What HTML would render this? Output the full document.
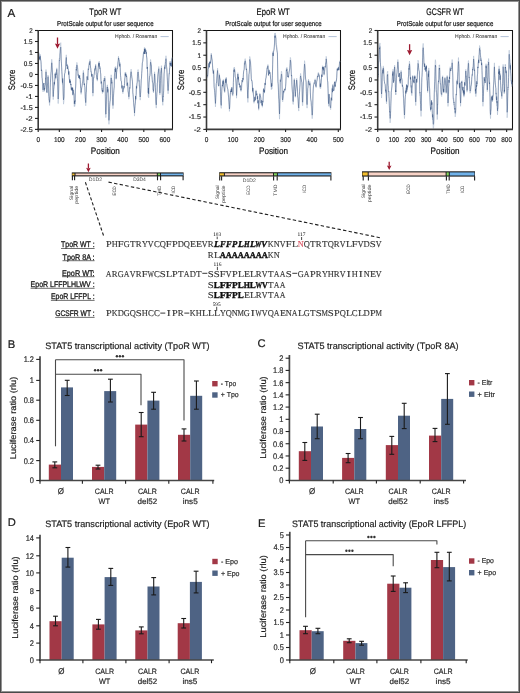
<!DOCTYPE html>
<html><head><meta charset="utf-8"><style>
html,body{margin:0;padding:0;background:#fff;}
body{width:520px;height:693px;overflow:hidden;position:relative;}
svg{position:absolute;left:0;top:0;will-change:transform;text-rendering:geometricPrecision;font-family:"Liberation Sans", sans-serif;}
.frame{position:absolute;left:0;top:0;width:520px;height:693px;box-sizing:border-box;
border:1px solid #4a4a4a;box-shadow:inset 0 0 0 1px #939393;}
</style></head><body>
<svg width="520" height="693" viewBox="0 0 520 693">
<text x="7.6" y="16.9" font-size="11.6" fill="#1a1a1a" stroke="#1a1a1a" stroke-width="0.2">A</text>
<text x="105.35" y="14.9" font-size="9.6" text-anchor="middle" textLength="32" lengthAdjust="spacingAndGlyphs" stroke="#222" stroke-width="0.2">TpoR WT</text>
<text x="105.35" y="25.6" font-size="7.1" text-anchor="middle" textLength="96.5" lengthAdjust="spacingAndGlyphs" stroke="#222" stroke-width="0.2">ProtScale output for user sequence</text>
<path d="M38.2 30.5 L172.5 30.5 L172.5 129.4" fill="none" stroke="#151515" stroke-width="1.05"/>
<path d="M38.41 52.86 L38.62 52.99 L38.83 52.34 L39.04 57.04 L39.26 58.75 L39.47 58.23 L39.68 55.89 L39.89 59.52 L40.1 54.21 L40.31 55.05 L40.52 58.28 L40.73 59.08 L40.95 60.33 L41.16 64.09 L41.37 70.84 L41.58 69.64 L41.79 71.06 L42 77.63 L42.21 78.71 L42.42 81.46 L42.64 84.32 L42.85 87.82 L43.06 91.96 L43.27 86.39 L43.48 84.79 L43.69 84.7 L43.9 83.23 L44.11 88.07 L44.32 91.48 L44.54 88.66 L44.75 89.33 L44.96 86.82 L45.17 85.64 L45.38 84.84 L45.59 77.48 L45.8 78.21 L46.01 69.54 L46.23 77.16 L46.44 84.79 L46.65 92.49 L46.86 92.24 L47.07 93.08 L47.28 89.26 L47.49 83.37 L47.7 83.38 L47.92 75.28 L48.13 75.06 L48.34 80.98 L48.55 89.28 L48.76 96.72 L48.97 98.92 L49.18 102.76 L49.39 102.74 L49.6 105.46 L49.82 101.45 L50.03 98.56 L50.24 88.01 L50.45 82.04 L50.66 78.02 L50.87 73.68 L51.08 70.64 L51.29 69.13 L51.51 62.02 L51.72 59.25 L51.93 60.63 L52.14 65.07 L52.35 69.17 L52.56 74.73 L52.77 82.18 L52.98 95.81 L53.2 99.61 L53.41 97.28 L53.62 91.24 L53.83 89.66 L54.04 86.07 L54.25 82.85 L54.46 85.39 L54.67 80.79 L54.88 79.37 L55.1 72.9 L55.31 74.78 L55.52 74.89 L55.73 77.52 L55.94 71.89 L56.15 73.63 L56.36 71.37 L56.57 69.92 L56.79 67.83 L57 71.68 L57.21 74.76 L57.42 78.91 L57.63 83.19 L57.84 93.08 L58.05 103.54 L58.26 103.59 L58.48 99.17 L58.69 92.46 L58.9 77.66 L59.11 69.9 L59.32 58.27 L59.53 58.85 L59.74 57.99 L59.95 51.23 L60.16 49.9 L60.38 44.67 L60.59 43.38 L60.8 42.65 L61.01 49.97 L61.22 58.84 L61.43 61.52 L61.64 66.73 L61.85 71.7 L62.07 75.27 L62.28 80.33 L62.49 84.41 L62.7 79.4 L62.91 84.53 L63.12 92.9 L63.33 99.92 L63.54 104.17 L63.76 102.49 L63.97 100.81 L64.18 90.66 L64.39 77.97 L64.6 73.71 L64.81 72.95 L65.02 72.43 L65.23 69.16 L65.44 69.23 L65.66 65.94 L65.87 59.01 L66.08 58.04 L66.29 54.81 L66.5 61.53 L66.71 64.48 L66.92 65.17 L67.13 63.99 L67.35 68.79 L67.56 66.73 L67.77 65.71 L67.98 67.99 L68.19 68.44 L68.4 69.72 L68.61 74.74 L68.82 71.09 L69.04 74.67 L69.25 78.54 L69.46 80.2 L69.67 83.26 L69.88 79.45 L70.09 83.08 L70.3 80.89 L70.51 81.74 L70.72 85.16 L70.94 84.14 L71.15 88.77 L71.36 90.09 L71.57 87.7 L71.78 90.51 L71.99 89.62 L72.2 87.22 L72.41 90.45 L72.63 87.4 L72.84 95.3 L73.05 89.64 L73.26 90.7 L73.47 93.65 L73.68 93.71 L73.89 93.93 L74.1 98.28 L74.32 106.59 L74.53 103.41 L74.74 106.4 L74.95 102.91 L75.16 104.32 L75.37 90.88 L75.58 88.75 L75.79 84.03 L76 74.41 L76.22 66.96 L76.43 68.55 L76.64 63.61 L76.85 62.38 L77.06 62.93 L77.27 64.21 L77.48 65.54 L77.69 67.75 L77.91 71.85 L78.12 75.1 L78.33 74.38 L78.54 77.49 L78.75 78.08 L78.96 77.74 L79.17 75.37 L79.38 78.4 L79.6 75.04 L79.81 78.76 L80.02 78.18 L80.23 80.17 L80.44 84.18 L80.65 89.32 L80.86 89.73 L81.07 94.37 L81.28 92.22 L81.5 90.27 L81.71 88.42 L81.92 87.35 L82.13 86.12 L82.34 83.47 L82.55 82.97 L82.76 80.81 L82.97 78.77 L83.19 70.69 L83.4 70.3 L83.61 72.12 L83.82 78.98 L84.03 83.56 L84.24 84.69 L84.45 83.38 L84.66 86.08 L84.88 87.84 L85.09 94.16 L85.3 100.88 L85.51 100.92 L85.72 105.84 L85.93 102.45 L86.14 94.31 L86.35 93.45 L86.56 85.32 L86.78 82.6 L86.99 76.63 L87.2 76.08 L87.41 77.64 L87.62 78.72 L87.83 80.2 L88.04 72.52 L88.25 68.11 L88.47 69.05 L88.68 67.92 L88.89 64.74 L89.1 64.02 L89.31 62.13 L89.52 63.6 L89.73 61.97 L89.94 59.44 L90.16 61.84 L90.37 64.43 L90.58 67.16 L90.79 68.08 L91 71.86 L91.21 71.67 L91.42 73.2 L91.63 76.87 L91.84 74.02 L92.06 74.07 L92.27 75.32 L92.48 83.09 L92.69 91.02 L92.9 96.23 L93.11 93.6 L93.32 85.6 L93.53 78.26 L93.75 78.42 L93.96 75.52 L94.17 74.4 L94.38 72.74 L94.59 69.87 L94.8 68.32 L95.01 69.39 L95.22 66.56 L95.44 67.27 L95.65 64.05 L95.86 66.75 L96.07 69.07 L96.28 74.78 L96.49 75.49 L96.7 78.8 L96.91 79.66 L97.12 79.45 L97.34 81.14 L97.55 76.77 L97.76 73.08 L97.97 72.67 L98.18 68.65 L98.39 65.58 L98.6 61.93 L98.81 62.21 L99.03 65.47 L99.24 61.19 L99.45 66.64 L99.66 67.61 L99.87 67.35 L100.08 66.26 L100.29 68.52 L100.5 71.92 L100.72 73.6 L100.93 79.64 L101.14 84.18 L101.35 83.28 L101.56 82.06 L101.77 85.47 L101.98 90.98 L102.19 89.98 L102.4 93.54 L102.62 91.21 L102.83 92.66 L103.04 92.38 L103.25 92.16 L103.46 84.56 L103.67 82.1 L103.88 79.22 L104.09 78.13 L104.31 79.6 L104.52 79.45 L104.73 76.07 L104.94 77.38 L105.15 82.72 L105.36 97.3 L105.57 115.51 L105.78 117.63 L106 117.17 L106.21 110.08 L106.42 101.76 L106.63 93.73 L106.84 88.38 L107.05 85.68 L107.26 86.03 L107.47 84.82 L107.68 91.17 L107.9 87.62 L108.11 90.43 L108.32 102.8 L108.53 113.57 L108.74 117.82 L108.95 124.32 L109.16 119.57 L109.37 117.27 L109.59 108.53 L109.8 104.22 L110.01 101.83 L110.22 100.94 L110.43 95.57 L110.64 84.8 L110.85 76.72 L111.06 74.72 L111.28 74.91 L111.49 76.12 L111.7 81.54 L111.91 79.89 L112.12 85.25 L112.33 93.52 L112.54 101.35 L112.75 107.35 L112.96 108.69 L113.18 107.66 L113.39 100 L113.6 95.56 L113.81 91.96 L114.02 89.21 L114.23 87.77 L114.44 75.32 L114.65 72.07 L114.87 70.86 L115.08 66.98 L115.29 68.84 L115.5 70.91 L115.71 66.47 L115.92 71.93 L116.13 79.33 L116.34 77.74 L116.56 73.29 L116.77 70.98 L116.98 69.12 L117.19 68.66 L117.4 68.79 L117.61 67.36 L117.82 64.04 L118.03 60.95 L118.24 60.13 L118.46 56.16 L118.67 57.85 L118.88 57.86 L119.09 58.17 L119.3 61.68 L119.51 64.84 L119.72 65.71 L119.93 62.36 L120.15 65.76 L120.36 71.59 L120.57 75.85 L120.78 77.84 L120.99 81.11 L121.2 81.25 L121.41 81.55 L121.62 84.92 L121.84 88.99 L122.05 86.33 L122.26 86.36 L122.47 90.93 L122.68 92.46 L122.89 93.61 L123.1 91.68 L123.31 91.62 L123.52 88.76 L123.74 89.2 L123.95 86.69 L124.16 88.13 L124.37 85.85 L124.58 83.33 L124.79 77.92 L125 76.96 L125.21 72.04 L125.43 74.44 L125.64 72.08 L125.85 72.28 L126.06 73.98 L126.27 75.83 L126.48 74.33 L126.69 75.79 L126.9 79.42 L127.12 85.82 L127.33 82.85 L127.54 82.66 L127.75 86.01 L127.96 89.21 L128.17 93.37 L128.38 93.36 L128.59 96.84 L128.8 99.21 L129.02 98.6 L129.23 96.67 L129.44 92.31 L129.65 88.14 L129.86 88.83 L130.07 86.51 L130.28 77.94 L130.49 75.63 L130.71 72.36 L130.92 71.02 L131.13 69.1 L131.34 72.73 L131.55 72.76 L131.76 75.94 L131.97 76.66 L132.18 78.17 L132.4 79.74 L132.61 84.15 L132.82 92.97 L133.03 94.54 L133.24 97.55 L133.45 100.68 L133.66 103.9 L133.87 107.57 L134.08 109.02 L134.3 110.53 L134.51 116.12 L134.72 111.49 L134.93 108.3 L135.14 105.37 L135.35 105 L135.56 96.6 L135.77 100.28 L135.99 96.17 L136.2 94.51 L136.41 85.58 L136.62 88.07 L136.83 84.28 L137.04 82.45 L137.25 81.41 L137.46 74.2 L137.68 71.59 L137.89 70.07 L138.1 69.52 L138.31 71.1 L138.52 73.45 L138.73 77.64 L138.94 80.93 L139.15 80.47 L139.36 86.8 L139.58 86.95 L139.79 95.14 L140 97.75 L140.21 100.13 L140.42 97.6 L140.63 94.65 L140.84 90.43 L141.05 85.14 L141.27 79.87 L141.48 79.1 L141.69 73.54 L141.9 70.6 L142.11 67.06 L142.32 62.65 L142.53 61.52 L142.74 60.59 L142.96 58.24 L143.17 56.53 L143.38 53.05 L143.59 52.49 L143.8 51.13 L144.01 53.25 L144.22 52.6 L144.43 47.43 L144.64 53.55 L144.86 47.81 L145.07 50.51 L145.28 48.04 L145.49 50.39 L145.7 49.63 L145.91 51.51 L146.12 52.44 L146.33 50.25 L146.55 56.17 L146.76 56.09 L146.97 59.72 L147.18 68.92 L147.39 66.91 L147.6 73.47 L147.81 81.9 L148.02 88.9 L148.24 96.7 L148.45 90.96 L148.66 97.94 L148.87 89.04 L149.08 83.99 L149.29 81.96 L149.5 77.57 L149.71 76.12 L149.92 75.43 L150.14 72.71 L150.35 62.84 L150.56 59.47 L150.77 60.6 L150.98 63.04 L151.19 62.85 L151.4 63.83 L151.61 72.21 L151.83 74.31 L152.04 76.91 L152.25 79.65 L152.46 83.02 L152.67 82.94 L152.88 82.99 L153.09 91.46 L153.3 91.24 L153.52 92.9 L153.73 88.77 L153.94 83.47 L154.15 82.87 L154.36 76 L154.57 71.81 L154.78 73.71 L154.99 77.69 L155.2 83.87 L155.42 87.6 L155.63 97.75 L155.84 103.58 L156.05 105.74 L156.26 108.14 L156.47 102.08 L156.68 98.38 L156.89 93.61 L157.11 92.39 L157.32 82.8 L157.53 82.01 L157.74 76.76 L157.95 73.05 L158.16 71.85 L158.37 69.98 L158.58 69.18 L158.8 66.44 L159.01 70.69 L159.22 76.06 L159.43 83.57 L159.64 91.81 L159.85 95.05 L160.06 92.78 L160.27 89.63 L160.48 80.27 L160.7 73.98 L160.91 70.03 L161.12 70.4 L161.33 65.79 L161.54 65.69 L161.75 74.6 L161.96 83.96 L162.17 93.58 L162.39 99.08 L162.6 103.31 L162.81 105.34 L163.02 99.34 L163.23 100.12 L163.44 95.79 L163.65 93.07 L163.86 83.56 L164.08 73.69 L164.29 71.39 L164.5 66.41 L164.71 64.99 L164.92 67.54 L165.13 64.6 L165.34 61.32 L165.55 59.38 L165.76 58.79 L165.98 55.76 L166.19 58.82 L166.4 64.76 L166.61 66.4 L166.82 68.41 L167.03 72.56 L167.24 77.49 L167.45 81.86 L167.67 88.38 L167.88 90.57 L168.09 93.82 L168.3 90.47 L168.51 88.51 L168.72 82.43 L168.93 77.81 L169.14 73.93 L169.36 74.2 L169.57 67.78 L169.78 67.71 L169.99 61.11 L170.2 63.08 L170.41 61.57 L170.62 64.92 L170.83 65.08 L171.04 61.62 L171.26 64.51 L171.47 66.26 L171.68 59.52 L171.89 57.24" fill="none" stroke="#aebdd2" stroke-width="0.6" stroke-linejoin="round"/>
<path d="M38.41 53.57 L38.62 53.79 L38.83 53.33 L39.04 57.52 L39.26 59.12 L39.47 58.81 L39.68 56.94 L39.89 60.23 L40.1 55.83 L40.31 56.67 L40.52 59.54 L40.73 60.33 L40.95 61.48 L41.16 64.81 L41.37 70.72 L41.58 69.87 L41.79 71.26 L42 77.08 L42.21 78.14 L42.42 80.63 L42.64 83.19 L42.85 86.3 L43.06 89.91 L43.27 85.23 L43.48 84.01 L43.69 84.1 L43.9 82.99 L44.11 87.31 L44.32 90.37 L44.54 87.99 L44.75 88.64 L44.96 86.5 L45.17 85.48 L45.38 84.8 L45.59 78.51 L45.8 79.2 L46.01 71.8 L46.23 78.4 L46.44 85.03 L46.65 91.76 L46.86 91.62 L47.07 92.42 L47.28 89.14 L47.49 84.02 L47.7 83.98 L47.92 76.94 L48.13 76.68 L48.34 81.68 L48.55 88.71 L48.76 95.02 L48.97 96.83 L49.18 100.11 L49.39 100.06 L49.6 102.35 L49.82 98.85 L50.03 96.38 L50.24 87.34 L50.45 82.24 L50.66 78.82 L50.87 75.12 L51.08 72.56 L51.29 71.3 L51.51 65.21 L51.72 62.78 L51.93 63.88 L52.14 67.58 L52.35 70.97 L52.56 75.61 L52.77 81.89 L52.98 93.47 L53.2 96.61 L53.41 94.53 L53.62 89.27 L53.83 87.87 L54.04 84.77 L54.25 82.02 L54.46 84.26 L54.67 80.4 L54.88 79.35 L55.1 73.98 L55.31 75.79 L55.52 76.03 L55.73 78.38 L55.94 73.51 L56.15 74.88 L56.36 72.74 L56.57 71.3 L56.79 69.35 L57 72.47 L57.21 74.95 L57.42 78.33 L57.63 81.81 L57.84 90.13 L58.05 98.99 L58.26 98.97 L58.48 95.1 L58.69 89.28 L58.9 76.53 L59.11 69.87 L59.32 59.91 L59.53 60.46 L59.74 59.78 L59.95 54.04 L60.16 53 L60.38 48.62 L60.59 47.63 L60.8 47.1 L61.01 53.43 L61.22 61 L61.43 63.18 L61.64 67.53 L61.85 71.72 L62.07 74.76 L62.28 79.11 L62.49 82.67 L62.7 78.4 L62.91 82.81 L63.12 90.05 L63.33 96.11 L63.54 99.85 L63.76 98.5 L63.97 97.16 L64.18 88.5 L64.39 77.63 L64.6 74 L64.81 73.34 L65.02 72.87 L65.23 70.03 L65.44 70.04 L65.66 67.16 L65.87 61.16 L66.08 60.28 L66.29 57.44 L66.5 63.11 L66.71 65.55 L66.92 66.04 L67.13 64.93 L67.35 69.02 L67.56 67.26 L67.77 66.44 L67.98 68.46 L68.19 68.92 L68.4 70.12 L68.61 74.53 L68.82 71.51 L69.04 74.74 L69.25 78.21 L69.46 79.8 L69.67 82.56 L69.88 79.43 L70.09 82.67 L70.3 80.92 L70.51 81.77 L70.72 84.84 L70.94 84.1 L71.15 88.22 L71.36 89.54 L71.57 87.65 L71.78 90.23 L71.99 89.61 L72.2 87.69 L72.41 90.53 L72.63 87.94 L72.84 94.75 L73.05 89.85 L73.26 90.69 L73.47 93.16 L73.68 93.13 L73.89 93.21 L74.1 96.84 L74.32 103.87 L74.53 101.02 L74.74 103.49 L74.95 100.41 L75.16 101.55 L75.37 89.93 L75.58 88.03 L75.79 83.93 L76 75.57 L76.22 69.09 L76.43 70.4 L76.64 66.06 L76.85 64.93 L77.06 65.33 L77.27 66.34 L77.48 67.38 L77.69 69.21 L77.91 72.66 L78.12 75.41 L78.33 74.74 L78.54 77.41 L78.75 77.91 L78.96 77.64 L79.17 75.66 L79.38 78.34 L79.6 75.52 L79.81 78.8 L80.02 78.38 L80.23 80.13 L80.44 83.61 L80.65 88.06 L80.86 88.46 L81.07 92.52 L81.28 90.71 L81.5 89.08 L81.71 87.53 L81.92 86.65 L82.13 85.67 L82.34 83.52 L82.55 83.2 L82.76 81.49 L82.97 79.85 L83.19 72.98 L83.4 72.71 L83.61 74.28 L83.82 80.14 L84.03 84.02 L84.24 84.91 L84.45 83.71 L84.66 85.98 L84.88 87.45 L85.09 92.81 L85.3 98.51 L85.51 98.47 L85.72 102.63 L85.93 99.63 L86.14 92.56 L86.35 91.79 L86.56 84.76 L86.78 82.37 L86.99 77.14 L87.2 76.57 L87.41 77.81 L87.62 78.66 L87.83 79.84 L88.04 73.17 L88.25 69.26 L88.47 69.93 L88.68 68.85 L88.89 65.96 L89.1 65.21 L89.31 63.49 L89.52 64.7 L89.73 63.33 L89.94 61.22 L90.16 63.37 L90.37 65.63 L90.58 67.98 L90.79 68.77 L91 72 L91.21 71.85 L91.42 73.18 L91.63 76.35 L91.84 73.9 L92.06 73.96 L92.27 75.05 L92.48 81.76 L92.69 88.58 L92.9 93.08 L93.11 90.87 L93.32 84.05 L93.53 77.79 L93.75 77.99 L93.96 75.55 L94.17 74.62 L94.38 73.24 L94.59 70.79 L94.8 69.44 L95.01 70.35 L95.22 67.89 L95.44 68.45 L95.65 65.58 L95.86 67.77 L96.07 69.62 L96.28 74.37 L96.49 74.89 L96.7 77.68 L96.91 78.37 L97.12 78.14 L97.34 79.57 L97.55 75.81 L97.76 72.65 L97.97 72.35 L98.18 68.96 L98.39 66.41 L98.6 63.34 L98.81 63.68 L99.03 66.6 L99.24 63.03 L99.45 67.81 L99.66 68.71 L99.87 68.56 L100.08 67.68 L100.29 69.68 L100.5 72.62 L100.72 74.09 L100.93 79.32 L101.14 83.25 L101.35 82.53 L101.56 81.54 L101.77 84.55 L101.98 89.36 L102.19 88.59 L102.4 91.82 L102.62 90.05 L102.83 91.54 L103.04 91.54 L103.25 91.56 L103.46 85.19 L103.67 83.18 L103.88 80.77 L104.09 79.86 L104.31 81.14 L104.52 81.01 L104.73 78.15 L104.94 79.28 L105.15 83.88 L105.36 96.48 L105.57 112.24 L105.78 114.18 L106 113.94 L106.21 107.98 L106.42 100.95 L106.63 94.16 L106.84 89.66 L107.05 87.45 L107.26 87.85 L107.47 86.9 L107.68 92.38 L107.9 89.33 L108.11 91.74 L108.32 102.33 L108.53 111.49 L108.74 114.99 L108.95 120.39 L109.16 116.16 L109.37 114.09 L109.59 106.58 L109.8 102.94 L110.01 100.98 L110.22 100.32 L110.43 95.77 L110.64 86.56 L110.85 79.62 L111.06 77.9 L111.28 78.05 L111.49 78.97 L111.7 83.43 L111.91 81.78 L112.12 86.11 L112.33 92.98 L112.54 99.49 L112.75 104.45 L112.96 105.44 L113.18 104.45 L113.39 97.75 L113.6 93.82 L113.81 90.66 L114.02 88.26 L114.23 86.99 L114.44 76.25 L114.65 73.41 L114.87 72.29 L115.08 68.86 L115.29 70.34 L115.5 71.94 L115.71 67.91 L115.92 72.37 L116.13 78.49 L116.34 76.9 L116.56 72.9 L116.77 70.77 L116.98 69.03 L117.19 68.52 L117.4 68.55 L117.61 67.33 L117.82 64.5 L118.03 61.89 L118.24 61.26 L118.46 57.9 L118.67 59.42 L118.88 59.54 L119.09 59.88 L119.3 62.93 L119.51 65.71 L119.72 66.55 L119.93 63.78 L120.15 66.81 L120.36 71.94 L120.57 75.7 L120.78 77.51 L120.99 80.44 L121.2 80.69 L121.41 81.07 L121.62 84.09 L121.84 87.69 L122.05 85.5 L122.26 85.6 L122.47 89.59 L122.68 90.93 L122.89 91.95 L123.1 90.35 L123.31 90.34 L123.52 87.91 L123.74 88.28 L123.95 86.13 L124.16 87.39 L124.37 85.43 L124.58 83.28 L124.79 78.63 L125 77.8 L125.21 73.61 L125.43 75.7 L125.64 73.7 L125.85 73.91 L126.06 75.4 L126.27 77.01 L126.48 75.72 L126.69 76.98 L126.9 80.1 L127.12 85.59 L127.33 82.99 L127.54 82.78 L127.75 85.61 L127.96 88.33 L128.17 91.86 L128.38 91.86 L128.59 94.85 L128.8 96.9 L129.02 96.4 L129.23 94.76 L129.44 91.03 L129.65 87.49 L129.86 88.17 L130.07 86.25 L130.28 78.93 L130.49 77.03 L130.71 74.33 L130.92 73.28 L131.13 71.72 L131.34 74.92 L131.55 75.06 L131.76 77.87 L131.97 78.53 L132.18 79.86 L132.4 81.25 L132.61 85.06 L132.82 92.71 L133.03 94.09 L133.24 96.72 L133.45 99.45 L133.66 102.28 L133.87 105.49 L134.08 106.79 L134.3 108.15 L134.51 112.97 L134.72 108.97 L134.93 106.2 L135.14 103.65 L135.35 103.3 L135.56 96.04 L135.77 99.18 L135.99 95.59 L136.2 94.09 L136.41 86.36 L136.62 88.43 L136.83 85.13 L137.04 83.51 L137.25 82.57 L137.46 76.31 L137.68 73.96 L137.89 72.55 L138.1 71.97 L138.31 73.21 L138.52 75.1 L138.73 78.59 L138.94 81.28 L139.15 80.74 L139.36 86.03 L139.58 86.04 L139.79 92.95 L140 95.07 L140.21 97 L140.42 94.68 L140.63 92.04 L140.84 88.32 L141.05 83.68 L141.27 79.07 L141.48 78.29 L141.69 73.41 L141.9 70.74 L142.11 67.55 L142.32 63.6 L142.53 62.45 L142.74 61.47 L142.96 59.25 L143.17 57.56 L143.38 54.32 L143.59 53.64 L143.8 52.28 L144.01 53.96 L144.22 53.32 L144.43 48.81 L144.64 54.05 L144.86 49.15 L145.07 51.56 L145.28 49.58 L145.49 51.74 L145.7 51.26 L145.91 53.02 L146.12 53.94 L146.33 52.18 L146.55 57.39 L146.76 57.44 L146.97 60.68 L147.18 68.68 L147.39 67 L147.6 72.7 L147.81 79.98 L148.02 86.08 L148.24 92.85 L148.45 87.98 L148.66 94.09 L148.87 86.56 L149.08 82.33 L149.29 80.72 L149.5 77.1 L149.71 75.99 L149.92 75.53 L150.14 73.34 L150.35 64.96 L150.56 62.18 L150.77 63.23 L150.98 65.34 L151.19 65.15 L151.4 65.89 L151.61 73 L151.83 74.69 L152.04 76.87 L152.25 79.23 L152.46 82.15 L152.67 82.18 L152.88 82.36 L153.09 89.79 L153.3 89.77 L153.52 91.39 L153.73 88.03 L153.94 83.62 L154.15 83.25 L154.36 77.44 L154.57 73.92 L154.78 75.58 L154.99 79 L155.2 84.29 L155.42 87.44 L155.63 96.11 L155.84 101.04 L156.05 102.84 L156.26 104.83 L156.47 99.58 L156.68 96.4 L156.89 92.33 L157.11 91.31 L157.32 83.1 L157.53 82.44 L157.74 77.94 L157.95 74.73 L158.16 73.66 L158.37 71.97 L158.58 71.17 L158.8 68.71 L159.01 72.27 L159.22 76.83 L159.43 83.24 L159.64 90.33 L159.85 93.16 L160.06 91.23 L160.27 88.56 L160.48 80.57 L160.7 75.21 L160.91 71.85 L161.12 72.17 L161.33 68.2 L161.54 68.1 L161.75 75.75 L161.96 83.8 L162.17 92.04 L162.39 96.7 L162.6 100.22 L162.81 101.81 L163.02 96.46 L163.23 96.97 L163.44 93.12 L163.65 90.71 L163.86 82.51 L164.08 74.03 L164.29 72.09 L164.5 67.88 L164.71 66.77 L164.92 69.05 L165.13 66.57 L165.34 63.73 L165.55 62.01 L165.76 61.4 L165.98 58.66 L166.19 61.17 L166.4 66.15 L166.61 67.43 L166.82 69.04 L167.03 72.5 L167.24 76.68 L167.45 80.4 L167.67 86 L167.88 87.88 L168.09 90.65 L168.3 87.77 L168.51 86.1 L168.72 80.88 L168.93 76.89 L169.14 73.64 L169.36 73.93 L169.57 68.45 L169.78 68.42 L169.99 62.77 L170.2 64.47 L170.41 63.15 L170.62 65.97 L170.83 66 L171.04 62.88 L171.26 65.18 L171.47 66.51 L171.68 60.54 L171.89 58.43" fill="none" stroke="#2c4a78" stroke-width="0.5" stroke-opacity="0.85" stroke-linejoin="round"/>
<line x1="38.2" y1="30" x2="38.2" y2="130" stroke="#3a3a3a" stroke-width="1.6" />
<line x1="37.5" y1="129.4" x2="173" y2="129.4" stroke="#3a3a3a" stroke-width="1.6" />
<line x1="35" y1="30.5" x2="38.2" y2="30.5" stroke="#222" stroke-width="1.1" />
<text x="32.6" y="32.9" font-size="6.8" text-anchor="end" textLength="3.45" lengthAdjust="spacingAndGlyphs" fill="#2a2a2a" stroke="#2a2a2a" stroke-width="0.2">2</text>
<line x1="35" y1="41.49" x2="38.2" y2="41.49" stroke="#222" stroke-width="1.1" />
<text x="32.6" y="43.89" font-size="6.8" text-anchor="end" textLength="8.75" lengthAdjust="spacingAndGlyphs" fill="#2a2a2a" stroke="#2a2a2a" stroke-width="0.2">1.5</text>
<line x1="35" y1="52.48" x2="38.2" y2="52.48" stroke="#222" stroke-width="1.1" />
<text x="32.6" y="54.88" font-size="6.8" text-anchor="end" textLength="3.45" lengthAdjust="spacingAndGlyphs" fill="#2a2a2a" stroke="#2a2a2a" stroke-width="0.2">1</text>
<line x1="35" y1="63.47" x2="38.2" y2="63.47" stroke="#222" stroke-width="1.1" />
<text x="32.6" y="65.87" font-size="6.8" text-anchor="end" textLength="8.75" lengthAdjust="spacingAndGlyphs" fill="#2a2a2a" stroke="#2a2a2a" stroke-width="0.2">0.5</text>
<line x1="35" y1="74.46" x2="38.2" y2="74.46" stroke="#222" stroke-width="1.1" />
<text x="32.6" y="76.86" font-size="6.8" text-anchor="end" textLength="3.45" lengthAdjust="spacingAndGlyphs" fill="#2a2a2a" stroke="#2a2a2a" stroke-width="0.2">0</text>
<line x1="35" y1="85.44" x2="38.2" y2="85.44" stroke="#222" stroke-width="1.1" />
<text x="32.6" y="87.84" font-size="6.8" text-anchor="end" textLength="12.2" lengthAdjust="spacingAndGlyphs" fill="#2a2a2a" stroke="#2a2a2a" stroke-width="0.2">-0.5</text>
<line x1="35" y1="96.43" x2="38.2" y2="96.43" stroke="#222" stroke-width="1.1" />
<text x="32.6" y="98.83" font-size="6.8" text-anchor="end" textLength="6.9" lengthAdjust="spacingAndGlyphs" fill="#2a2a2a" stroke="#2a2a2a" stroke-width="0.2">-1</text>
<line x1="35" y1="107.42" x2="38.2" y2="107.42" stroke="#222" stroke-width="1.1" />
<text x="32.6" y="109.82" font-size="6.8" text-anchor="end" textLength="12.2" lengthAdjust="spacingAndGlyphs" fill="#2a2a2a" stroke="#2a2a2a" stroke-width="0.2">-1.5</text>
<line x1="35" y1="118.41" x2="38.2" y2="118.41" stroke="#222" stroke-width="1.1" />
<text x="32.6" y="120.81" font-size="6.8" text-anchor="end" textLength="6.9" lengthAdjust="spacingAndGlyphs" fill="#2a2a2a" stroke="#2a2a2a" stroke-width="0.2">-2</text>
<line x1="35" y1="129.4" x2="38.2" y2="129.4" stroke="#222" stroke-width="1.1" />
<text x="32.6" y="131.8" font-size="6.8" text-anchor="end" textLength="12.2" lengthAdjust="spacingAndGlyphs" fill="#2a2a2a" stroke="#2a2a2a" stroke-width="0.2">-2.5</text>
<line x1="38.2" y1="129.4" x2="38.2" y2="132" stroke="#222" stroke-width="1.1" />
<text x="38.2" y="141.8" font-size="7" text-anchor="middle" textLength="3.6" lengthAdjust="spacingAndGlyphs" fill="#2a2a2a" stroke="#2a2a2a" stroke-width="0.2">0</text>
<line x1="59.32" y1="129.4" x2="59.32" y2="132" stroke="#222" stroke-width="1.1" />
<text x="59.32" y="141.8" font-size="7" text-anchor="middle" textLength="10.8" lengthAdjust="spacingAndGlyphs" fill="#2a2a2a" stroke="#2a2a2a" stroke-width="0.2">100</text>
<line x1="80.44" y1="129.4" x2="80.44" y2="132" stroke="#222" stroke-width="1.1" />
<text x="80.44" y="141.8" font-size="7" text-anchor="middle" textLength="10.8" lengthAdjust="spacingAndGlyphs" fill="#2a2a2a" stroke="#2a2a2a" stroke-width="0.2">200</text>
<line x1="101.56" y1="129.4" x2="101.56" y2="132" stroke="#222" stroke-width="1.1" />
<text x="101.56" y="141.8" font-size="7" text-anchor="middle" textLength="10.8" lengthAdjust="spacingAndGlyphs" fill="#2a2a2a" stroke="#2a2a2a" stroke-width="0.2">300</text>
<line x1="122.68" y1="129.4" x2="122.68" y2="132" stroke="#222" stroke-width="1.1" />
<text x="122.68" y="141.8" font-size="7" text-anchor="middle" textLength="10.8" lengthAdjust="spacingAndGlyphs" fill="#2a2a2a" stroke="#2a2a2a" stroke-width="0.2">400</text>
<line x1="143.8" y1="129.4" x2="143.8" y2="132" stroke="#222" stroke-width="1.1" />
<text x="143.8" y="141.8" font-size="7" text-anchor="middle" textLength="10.8" lengthAdjust="spacingAndGlyphs" fill="#2a2a2a" stroke="#2a2a2a" stroke-width="0.2">500</text>
<line x1="164.92" y1="129.4" x2="164.92" y2="132" stroke="#222" stroke-width="1.1" />
<text x="164.92" y="141.8" font-size="7" text-anchor="middle" textLength="10.8" lengthAdjust="spacingAndGlyphs" fill="#2a2a2a" stroke="#2a2a2a" stroke-width="0.2">600</text>
<text x="105.35" y="153.7" font-size="9.3" text-anchor="middle" textLength="29" lengthAdjust="spacingAndGlyphs" stroke="#222" stroke-width="0.2">Position</text>
<text x="157.2" y="38" font-size="5.4" text-anchor="end" textLength="42.2" lengthAdjust="spacingAndGlyphs" fill="#333" stroke="#333" stroke-width="0.05">Hphob. / Roseman</text>
<line x1="160.5" y1="36.6" x2="168.7" y2="36.6" stroke="#a9bad2" stroke-width="0.9" />
<text x="273.2" y="14.9" font-size="9.6" text-anchor="middle" textLength="33.2" lengthAdjust="spacingAndGlyphs" stroke="#222" stroke-width="0.2">EpoR WT</text>
<text x="273.5" y="25.6" font-size="7.1" text-anchor="middle" textLength="96.5" lengthAdjust="spacingAndGlyphs" stroke="#222" stroke-width="0.2">ProtScale output for user sequence</text>
<path d="M206.5 30.5 L340.5 30.5 L340.5 129.4" fill="none" stroke="#151515" stroke-width="1.05"/>
<path d="M206.76 75.68 L207.03 76.62 L207.29 76.53 L207.55 77.53 L207.82 74.98 L208.08 69.57 L208.35 69.05 L208.61 63.91 L208.87 63.05 L209.14 63.35 L209.4 67.55 L209.66 61.49 L209.93 64.08 L210.19 61.38 L210.45 62.65 L210.72 60 L210.98 59.08 L211.24 53.03 L211.51 54.76 L211.77 57.37 L212.04 58.41 L212.3 61.54 L212.56 64.91 L212.83 70.35 L213.09 71.25 L213.35 73.29 L213.62 69.6 L213.88 79.01 L214.14 88.03 L214.41 90.04 L214.67 92.42 L214.94 97.5 L215.2 101.37 L215.46 106.87 L215.73 99.95 L215.99 93.8 L216.25 83.25 L216.52 83.01 L216.78 78.06 L217.04 74.09 L217.31 71.73 L217.57 68.17 L217.83 73.43 L218.1 82.12 L218.36 84.86 L218.63 86.23 L218.89 85.6 L219.15 81.12 L219.42 73.65 L219.68 77.16 L219.94 77.98 L220.21 79.31 L220.47 92.43 L220.73 102.74 L221 106.92 L221.26 108.41 L221.53 98.29 L221.79 90.26 L222.05 86.88 L222.32 84.34 L222.58 85.97 L222.84 80.2 L223.11 83.73 L223.37 79.37 L223.63 81.81 L223.9 87.24 L224.16 88.44 L224.42 91.35 L224.69 92.61 L224.95 87.53 L225.22 83.33 L225.48 78.51 L225.74 82.24 L226.01 79.49 L226.27 77.05 L226.53 82.71 L226.8 83.6 L227.06 85.61 L227.32 86.96 L227.59 88.25 L227.85 89.33 L228.12 91.99 L228.38 95.29 L228.64 98.08 L228.91 102.75 L229.17 106.53 L229.43 111.39 L229.7 108.58 L229.96 100.45 L230.22 94.86 L230.49 92.48 L230.75 90.38 L231.01 91.93 L231.28 88.52 L231.54 91.92 L231.81 87.1 L232.07 90.02 L232.33 95.01 L232.6 96.09 L232.86 96.03 L233.12 94.74 L233.39 82.29 L233.65 72.36 L233.91 67.57 L234.18 70.03 L234.44 67.2 L234.71 68.83 L234.97 71.93 L235.23 76.43 L235.5 77.2 L235.76 78.52 L236.02 83.4 L236.29 87.91 L236.55 98.21 L236.81 93.16 L237.08 84.17 L237.34 79.25 L237.6 76.36 L237.87 72.61 L238.13 78.84 L238.4 75.79 L238.66 81.49 L238.92 82.19 L239.19 84.78 L239.45 83.59 L239.71 86.27 L239.98 87.82 L240.24 85.78 L240.5 90.73 L240.77 90.42 L241.03 91.49 L241.3 91 L241.56 88.64 L241.82 83 L242.09 80.31 L242.35 81.3 L242.61 82.36 L242.88 78.3 L243.14 80.19 L243.4 74.24 L243.67 70.9 L243.93 69.97 L244.19 68.93 L244.46 62.02 L244.72 62.9 L244.99 58.75 L245.25 58.71 L245.51 61.1 L245.78 62.69 L246.04 66.17 L246.3 69.31 L246.57 68.44 L246.83 72.73 L247.09 81.57 L247.36 89.08 L247.62 98.38 L247.89 102.45 L248.15 93.32 L248.41 89.77 L248.68 81.14 L248.94 74.25 L249.2 73 L249.47 68.78 L249.73 56.45 L249.99 57.91 L250.26 58.52 L250.52 60.38 L250.78 65.4 L251.05 71.82 L251.31 78.51 L251.58 80.7 L251.84 80.34 L252.1 81.73 L252.37 84.96 L252.63 92.45 L252.89 88.18 L253.16 91.72 L253.42 95.41 L253.68 96.88 L253.95 103.25 L254.21 101.49 L254.48 101.86 L254.74 97.62 L255 97.05 L255.27 100.76 L255.53 96.18 L255.79 93.06 L256.06 89.88 L256.32 94.76 L256.58 94.01 L256.85 93 L257.11 94.82 L257.37 99.26 L257.64 96.14 L257.9 103.8 L258.17 100.7 L258.43 105.36 L258.69 110.22 L258.96 104.86 L259.22 100.72 L259.48 99.46 L259.75 93.19 L260.01 93.42 L260.27 95.66 L260.54 95.8 L260.8 97.79 L261.07 103.58 L261.33 100.58 L261.59 100.67 L261.86 105.75 L262.12 104.53 L262.38 107.26 L262.65 101.82 L262.91 103.08 L263.17 98.29 L263.44 89.59 L263.7 88.3 L263.96 92.05 L264.23 90.19 L264.49 93.13 L264.76 89.01 L265.02 82.9 L265.28 85.1 L265.55 79.95 L265.81 78.35 L266.07 77.69 L266.34 75.02 L266.6 72.42 L266.86 69.58 L267.13 66.93 L267.39 67.49 L267.66 65.6 L267.92 64.5 L268.18 67.05 L268.45 75.55 L268.71 72.89 L268.97 69.62 L269.24 69.85 L269.5 73.55 L269.76 71.8 L270.03 72.55 L270.29 74.62 L270.55 79.38 L270.82 80.94 L271.08 85.29 L271.35 89.65 L271.61 85.58 L271.87 89.15 L272.14 85.54 L272.4 77.3 L272.66 65.05 L272.93 51.51 L273.19 55.46 L273.45 51.48 L273.72 50.1 L273.98 49.32 L274.25 46.76 L274.51 42.57 L274.77 33.23 L275.04 35.55 L275.3 32.95 L275.56 34.69 L275.83 35.46 L276.09 42.62 L276.35 44.51 L276.62 45.3 L276.88 48.89 L277.14 50.08 L277.41 50.46 L277.67 68.06 L277.94 83.42 L278.2 85.04 L278.46 92.64 L278.73 101.72 L278.99 103.42 L279.25 113.31 L279.52 119.19 L279.78 109.46 L280.04 95.15 L280.31 78.87 L280.57 80.11 L280.84 78.1 L281.1 75.92 L281.36 71.23 L281.63 71.21 L281.89 74.49 L282.15 89.51 L282.42 100.57 L282.68 101.8 L282.94 99.7 L283.21 96.97 L283.47 91.65 L283.73 93.33 L284 92.13 L284.26 90.9 L284.53 89.41 L284.79 90.78 L285.05 90.63 L285.32 90.63 L285.58 86.95 L285.84 83.11 L286.11 76.16 L286.37 68.28 L286.63 69.2 L286.9 67.27 L287.16 70.79 L287.43 71.25 L287.69 76.98 L287.95 76.39 L288.22 77.83 L288.48 78.09 L288.74 74.79 L289.01 72.89 L289.27 71.14 L289.53 69.86 L289.8 67.54 L290.06 63.54 L290.32 57.4 L290.59 58.28 L290.85 60.4 L291.12 67.36 L291.38 75.66 L291.64 74.92 L291.91 85.31 L292.17 89.24 L292.43 93.19 L292.7 94.58 L292.96 103.72 L293.22 104.44 L293.49 96.27 L293.75 89.23 L294.02 82.91 L294.28 78.48 L294.54 81.88 L294.81 87.54 L295.07 91.45 L295.33 97.29 L295.6 91.82 L295.86 89 L296.12 86.08 L296.39 83.06 L296.65 78.22 L296.91 80.28 L297.18 85.17 L297.44 87.84 L297.71 98.13 L297.97 98.66 L298.23 103.43 L298.5 109.06 L298.76 111.09 L299.02 104.45 L299.29 96.66 L299.55 91.94 L299.81 87.31 L300.08 83.19 L300.34 75.52 L300.61 73.38 L300.87 75.35 L301.13 77.36 L301.4 78.25 L301.66 81.51 L301.92 82.67 L302.19 93.53 L302.45 105.55 L302.71 105.79 L302.98 96.22 L303.24 87.84 L303.5 80.87 L303.77 78.65 L304.03 70.21 L304.3 65.55 L304.56 60.65 L304.82 62.84 L305.09 66.76 L305.35 74.43 L305.61 78.47 L305.88 80.1 L306.14 82.14 L306.4 93.4 L306.67 103.6 L306.93 108.06 L307.2 108.05 L307.46 100.1 L307.72 88.77 L307.99 87.12 L308.25 81.22 L308.51 79.13 L308.78 80.79 L309.04 83.05 L309.3 81.7 L309.57 83.51 L309.83 81.99 L310.09 81.62 L310.36 91.88 L310.62 98.9 L310.89 100.87 L311.15 102.3 L311.41 107.37 L311.68 108.75 L311.94 115.41 L312.2 118.69 L312.47 115.95 L312.73 107.12 L312.99 93.77 L313.26 88.31 L313.52 84.45 L313.79 83.32 L314.05 81.96 L314.31 82.65 L314.58 82.68 L314.84 81.26 L315.1 78.83 L315.37 82.97 L315.63 86.31 L315.89 87.32 L316.16 87.64 L316.42 84.96 L316.68 81.73 L316.95 80.68 L317.21 79.19 L317.48 75.72 L317.74 76.35 L318 76.55 L318.27 72.33 L318.53 72.7 L318.79 73.03 L319.06 75.67 L319.32 75.28 L319.58 78.82 L319.85 80.16 L320.11 88.31 L320.38 84.71 L320.64 88.61 L320.9 86.79 L321.17 83.12 L321.43 79.21 L321.69 74.55 L321.96 77.08 L322.22 72.89 L322.48 65.77 L322.75 68.03 L323.01 66.34 L323.27 70.03 L323.54 66.78 L323.8 71.82 L324.07 75.25 L324.33 72.15 L324.59 71.84 L324.86 67.46 L325.12 66.01 L325.38 66.85 L325.65 61.99 L325.91 61.82 L326.17 56.32 L326.44 57.82 L326.7 62.28 L326.97 67.23 L327.23 75.47 L327.49 80.36 L327.76 81.9 L328.02 89.05 L328.28 97.59 L328.55 106.3 L328.81 97.22 L329.07 94.49 L329.34 96.72 L329.6 99.32 L329.86 106.4 L330.13 107.65 L330.39 108.41 L330.66 109.66 L330.92 104.27 L331.18 97.79 L331.45 98.11 L331.71 101.04 L331.97 92.38 L332.24 87.62 L332.5 91.95 L332.76 84.18 L333.03 85.44 L333.29 88.52 L333.56 91.08 L333.82 90.84 L334.08 89.89 L334.35 83.23 L334.61 81.48 L334.87 86.76 L335.14 86.22 L335.4 87.14 L335.66 82.49 L335.93 82.76 L336.19 80.71 L336.45 80.87 L336.72 77.28 L336.98 71.6 L337.25 68.16 L337.51 69.94 L337.77 67.72 L338.04 69.31 L338.3 69.25 L338.56 66.79 L338.83 70.19 L339.09 68.86 L339.35 65 L339.62 60.83 L339.88 61.72" fill="none" stroke="#aebdd2" stroke-width="0.6" stroke-linejoin="round"/>
<path d="M206.76 74.88 L207.03 75.63 L207.29 75.47 L207.55 76.26 L207.82 74 L208.08 69.27 L208.35 68.72 L208.61 64.21 L208.87 63.41 L209.14 63.61 L209.4 67.2 L209.66 61.99 L209.93 64.19 L210.19 61.84 L210.45 62.9 L210.72 60.57 L210.98 59.81 L211.24 54.72 L211.51 56.34 L211.77 58.75 L212.04 59.86 L212.3 62.78 L212.56 65.92 L212.83 70.83 L213.09 71.79 L213.35 73.67 L213.62 70.62 L213.88 78.83 L214.14 86.67 L214.41 88.52 L214.67 90.64 L214.94 95.12 L215.2 98.58 L215.46 103.45 L215.73 97.63 L215.99 92.44 L216.25 83.42 L216.52 83.22 L216.78 79.01 L217.04 75.59 L217.31 73.5 L217.57 70.46 L217.83 75.04 L218.1 82.57 L218.36 84.97 L218.63 86.11 L218.89 85.51 L219.15 81.6 L219.42 75.19 L219.68 78.22 L219.94 78.94 L220.21 80.14 L220.47 91.48 L220.73 100.42 L221 104.11 L221.26 105.42 L221.53 96.76 L221.79 89.9 L222.05 87 L222.32 84.83 L222.58 86.26 L222.84 81.33 L223.11 84.37 L223.37 80.61 L223.63 82.65 L223.9 87.2 L224.16 88.1 L224.42 90.47 L224.69 91.5 L224.95 87.12 L225.22 83.54 L225.48 79.47 L225.74 82.75 L226.01 80.52 L226.27 78.56 L226.53 83.62 L226.8 84.55 L227.06 86.36 L227.32 87.56 L227.59 88.68 L227.85 89.59 L228.12 91.91 L228.38 94.77 L228.64 97.25 L228.91 101.31 L229.17 104.61 L229.43 108.91 L229.7 106.57 L229.96 99.66 L230.22 94.9 L230.49 92.83 L230.75 90.92 L231.01 92.12 L231.28 89.06 L231.54 91.81 L231.81 87.49 L232.07 89.81 L232.33 93.92 L232.6 94.64 L232.86 94.41 L233.12 93.2 L233.39 82.44 L233.65 73.94 L233.91 69.84 L234.18 71.9 L234.44 69.42 L234.71 70.72 L234.97 73.3 L235.23 77.1 L235.5 77.64 L235.76 78.69 L236.02 82.81 L236.29 86.62 L236.55 95.49 L236.81 91.23 L237.08 83.62 L237.34 79.49 L237.6 77.14 L237.87 74.05 L238.13 79.53 L238.4 77 L238.66 81.96 L238.92 82.59 L239.19 84.8 L239.45 83.74 L239.71 85.95 L239.98 87.19 L240.24 85.42 L240.5 89.64 L240.77 89.34 L241.03 90.24 L241.3 89.76 L241.56 87.65 L241.82 82.68 L242.09 80.23 L242.35 80.92 L242.61 81.69 L242.88 78.06 L243.14 79.55 L243.4 74.34 L243.67 71.33 L243.93 70.42 L244.19 69.47 L244.46 63.51 L244.72 64.33 L244.99 60.88 L245.25 60.92 L245.51 63.03 L245.78 64.39 L246.04 67.36 L246.3 70.01 L246.57 69.23 L246.83 72.83 L247.09 80.36 L247.36 86.76 L247.62 94.74 L247.89 98.26 L248.15 90.49 L248.41 87.56 L248.68 80.26 L248.94 74.44 L249.2 73.45 L249.47 69.93 L249.73 59.47 L249.99 60.81 L250.26 61.4 L250.52 63.04 L250.78 67.35 L251.05 72.87 L251.31 78.68 L251.58 80.63 L251.84 80.42 L252.1 81.76 L252.37 84.7 L252.63 91.31 L252.89 87.86 L253.16 91.1 L253.42 94.5 L253.68 95.97 L253.95 101.61 L254.21 100.24 L254.48 100.68 L254.74 97.13 L255 96.78 L255.27 100.09 L255.53 96.27 L255.79 93.7 L256.06 91.06 L256.32 95.32 L256.58 94.7 L256.85 93.81 L257.11 95.31 L257.37 99.09 L257.64 96.37 L257.9 102.97 L258.17 100.34 L258.43 104.34 L258.69 108.55 L258.96 104.02 L259.22 100.54 L259.48 99.54 L259.75 94.19 L260.01 94.46 L260.27 96.4 L260.54 96.46 L260.8 98.13 L261.07 103.03 L261.33 100.39 L261.59 100.39 L261.86 104.63 L262.12 103.45 L262.38 105.71 L262.65 100.91 L262.91 101.9 L263.17 97.68 L263.44 90.08 L263.7 88.82 L263.96 91.87 L264.23 90.05 L264.49 92.38 L264.76 88.63 L265.02 83.12 L265.28 84.78 L265.55 80.16 L265.81 78.61 L266.07 77.84 L266.34 75.37 L266.6 73.04 L266.86 70.49 L267.13 68.09 L267.39 68.48 L267.66 66.77 L267.92 65.78 L268.18 67.98 L268.45 75.33 L268.71 73.07 L268.97 70.32 L269.24 70.57 L269.5 73.76 L269.76 72.21 L270.03 72.75 L270.29 74.46 L270.55 78.45 L270.82 79.7 L271.08 83.35 L271.35 86.98 L271.61 83.27 L271.87 86.1 L272.14 82.8 L272.4 75.48 L272.66 64.71 L272.93 52.85 L273.19 56.06 L273.45 52.45 L273.72 51.06 L273.98 50.19 L274.25 47.78 L274.51 43.93 L274.77 35.8 L275.04 37.76 L275.3 35.52 L275.56 37.11 L275.83 38 L276.09 44.47 L276.35 46.45 L276.62 47.54 L276.88 50.98 L277.14 52.28 L277.41 52.81 L277.67 68.18 L277.94 81.66 L278.2 83.3 L278.46 90.06 L278.73 98.1 L278.99 99.79 L279.25 108.59 L279.52 113.98 L279.78 105.96 L280.04 93.96 L280.31 80.25 L280.57 81.57 L280.84 79.99 L281.1 78.17 L281.36 74.17 L281.63 74.13 L281.89 76.89 L282.15 89.73 L282.42 99.1 L282.68 99.97 L282.94 97.99 L283.21 95.54 L283.47 90.89 L283.73 92.27 L284 91.17 L284.26 90.08 L284.53 88.8 L284.79 90.02 L285.05 89.9 L285.32 89.82 L285.58 86.53 L285.84 83.06 L286.11 76.92 L286.37 69.98 L286.63 70.64 L286.9 68.83 L287.16 71.68 L287.43 71.87 L287.69 76.61 L287.95 75.92 L288.22 77.02 L288.48 77.15 L288.74 74.23 L289.01 72.61 L289.27 71.19 L289.53 70.24 L289.8 68.4 L290.06 65.18 L290.32 60.11 L290.59 61.02 L290.85 62.91 L291.12 68.94 L291.38 76.08 L291.64 75.46 L291.91 84.48 L292.17 87.97 L292.43 91.53 L292.7 92.86 L292.96 100.85 L293.22 101.61 L293.49 94.74 L293.75 88.8 L294.02 83.49 L294.28 79.79 L294.54 82.79 L294.81 87.8 L295.07 91.24 L295.33 96.34 L295.6 91.74 L295.86 89.41 L296.12 86.91 L296.39 84.27 L296.65 80.07 L296.91 81.83 L297.18 86.04 L297.44 88.32 L297.71 97.12 L297.97 97.5 L298.23 101.51 L298.5 106.24 L298.76 107.92 L299.02 102.18 L299.29 95.52 L299.55 91.59 L299.81 87.78 L300.08 84.34 L300.34 77.76 L300.61 75.88 L300.87 77.45 L301.13 79.01 L301.4 79.54 L301.66 82.05 L301.92 82.76 L302.19 91.87 L302.45 102.07 L302.71 102.19 L302.98 93.92 L303.24 86.71 L303.5 80.82 L303.77 79.09 L304.03 72.04 L304.3 68.21 L304.56 64.13 L304.82 66.06 L305.09 69.45 L305.35 75.98 L305.61 79.29 L305.88 80.54 L306.14 82.22 L306.4 91.86 L306.67 100.65 L306.93 104.51 L307.2 104.57 L307.46 97.89 L307.72 88.38 L307.99 87.19 L308.25 82.33 L308.51 80.74 L308.78 82.35 L309.04 84.51 L309.3 83.57 L309.57 85.26 L309.83 83.98 L310.09 83.57 L310.36 92.27 L310.62 98.21 L310.89 99.88 L311.15 101.08 L311.41 105.45 L311.68 106.66 L311.94 112.38 L312.2 115.18 L312.47 112.83 L312.73 105.26 L312.99 93.8 L313.26 89.14 L313.52 85.79 L313.79 84.71 L314.05 83.42 L314.31 83.87 L314.58 83.7 L314.84 82.28 L315.1 79.96 L315.37 83.23 L315.63 85.85 L315.89 86.51 L316.16 86.67 L316.42 84.29 L316.68 81.48 L316.95 80.56 L317.21 79.31 L317.48 76.34 L317.74 76.92 L318 77.12 L318.27 73.52 L318.53 73.81 L318.79 74.03 L319.06 76.24 L319.32 75.81 L319.58 78.73 L319.85 79.8 L320.11 86.73 L320.38 83.58 L320.64 86.88 L320.9 85.28 L321.17 82.12 L321.43 78.75 L321.69 74.75 L321.96 76.88 L322.22 73.23 L322.48 67.05 L322.75 68.89 L323.01 67.32 L323.27 70.31 L323.54 67.35 L323.8 71.52 L324.07 74.35 L324.33 71.63 L324.59 71.37 L324.86 67.66 L325.12 66.48 L325.38 67.35 L325.65 63.42 L325.91 63.46 L326.17 58.89 L326.44 60.35 L326.7 64.38 L326.97 68.84 L327.23 76.13 L327.49 80.56 L327.76 82.11 L328.02 88.49 L328.28 96.02 L328.55 103.7 L328.81 96.13 L329.07 93.97 L329.34 96.08 L329.6 98.53 L329.86 104.74 L330.13 105.93 L330.39 106.67 L330.66 107.81 L330.92 103.22 L331.18 97.66 L331.45 97.84 L331.71 100.21 L331.97 92.7 L332.24 88.55 L332.5 92.22 L332.76 85.44 L333.03 86.38 L333.29 88.86 L333.56 90.9 L333.82 90.49 L334.08 89.47 L334.35 83.56 L334.61 81.89 L334.87 86.23 L335.14 85.62 L335.4 86.3 L335.66 82.16 L335.93 82.3 L336.19 80.43 L336.45 80.43 L336.72 77.15 L336.98 72.1 L337.25 69.04 L337.51 70.51 L337.77 68.55 L338.04 69.83 L338.3 69.67 L338.56 67.43 L338.83 70.26 L339.09 69 L339.35 65.57 L339.62 61.86 L339.88 62.52" fill="none" stroke="#2c4a78" stroke-width="0.5" stroke-opacity="0.85" stroke-linejoin="round"/>
<line x1="206.5" y1="30" x2="206.5" y2="130" stroke="#3a3a3a" stroke-width="1.6" />
<line x1="205.8" y1="129.4" x2="341" y2="129.4" stroke="#3a3a3a" stroke-width="1.6" />
<line x1="203.3" y1="30.5" x2="206.5" y2="30.5" stroke="#222" stroke-width="1.1" />
<text x="200.9" y="32.9" font-size="6.8" text-anchor="end" textLength="3.45" lengthAdjust="spacingAndGlyphs" fill="#2a2a2a" stroke="#2a2a2a" stroke-width="0.2">2</text>
<line x1="203.3" y1="42.86" x2="206.5" y2="42.86" stroke="#222" stroke-width="1.1" />
<text x="200.9" y="45.26" font-size="6.8" text-anchor="end" textLength="8.75" lengthAdjust="spacingAndGlyphs" fill="#2a2a2a" stroke="#2a2a2a" stroke-width="0.2">1.5</text>
<line x1="203.3" y1="55.23" x2="206.5" y2="55.23" stroke="#222" stroke-width="1.1" />
<text x="200.9" y="57.62" font-size="6.8" text-anchor="end" textLength="3.45" lengthAdjust="spacingAndGlyphs" fill="#2a2a2a" stroke="#2a2a2a" stroke-width="0.2">1</text>
<line x1="203.3" y1="67.59" x2="206.5" y2="67.59" stroke="#222" stroke-width="1.1" />
<text x="200.9" y="69.99" font-size="6.8" text-anchor="end" textLength="8.75" lengthAdjust="spacingAndGlyphs" fill="#2a2a2a" stroke="#2a2a2a" stroke-width="0.2">0.5</text>
<line x1="203.3" y1="79.95" x2="206.5" y2="79.95" stroke="#222" stroke-width="1.1" />
<text x="200.9" y="82.35" font-size="6.8" text-anchor="end" textLength="3.45" lengthAdjust="spacingAndGlyphs" fill="#2a2a2a" stroke="#2a2a2a" stroke-width="0.2">0</text>
<line x1="203.3" y1="92.31" x2="206.5" y2="92.31" stroke="#222" stroke-width="1.1" />
<text x="200.9" y="94.71" font-size="6.8" text-anchor="end" textLength="12.2" lengthAdjust="spacingAndGlyphs" fill="#2a2a2a" stroke="#2a2a2a" stroke-width="0.2">-0.5</text>
<line x1="203.3" y1="104.68" x2="206.5" y2="104.68" stroke="#222" stroke-width="1.1" />
<text x="200.9" y="107.08" font-size="6.8" text-anchor="end" textLength="6.9" lengthAdjust="spacingAndGlyphs" fill="#2a2a2a" stroke="#2a2a2a" stroke-width="0.2">-1</text>
<line x1="203.3" y1="117.04" x2="206.5" y2="117.04" stroke="#222" stroke-width="1.1" />
<text x="200.9" y="119.44" font-size="6.8" text-anchor="end" textLength="12.2" lengthAdjust="spacingAndGlyphs" fill="#2a2a2a" stroke="#2a2a2a" stroke-width="0.2">-1.5</text>
<line x1="203.3" y1="129.4" x2="206.5" y2="129.4" stroke="#222" stroke-width="1.1" />
<text x="200.9" y="131.8" font-size="6.8" text-anchor="end" textLength="6.9" lengthAdjust="spacingAndGlyphs" fill="#2a2a2a" stroke="#2a2a2a" stroke-width="0.2">-2</text>
<line x1="206.5" y1="129.4" x2="206.5" y2="132" stroke="#222" stroke-width="1.1" />
<text x="206.5" y="141.8" font-size="7" text-anchor="middle" textLength="3.6" lengthAdjust="spacingAndGlyphs" fill="#2a2a2a" stroke="#2a2a2a" stroke-width="0.2">0</text>
<line x1="232.86" y1="129.4" x2="232.86" y2="132" stroke="#222" stroke-width="1.1" />
<text x="232.86" y="141.8" font-size="7" text-anchor="middle" textLength="10.8" lengthAdjust="spacingAndGlyphs" fill="#2a2a2a" stroke="#2a2a2a" stroke-width="0.2">100</text>
<line x1="259.22" y1="129.4" x2="259.22" y2="132" stroke="#222" stroke-width="1.1" />
<text x="259.22" y="141.8" font-size="7" text-anchor="middle" textLength="10.8" lengthAdjust="spacingAndGlyphs" fill="#2a2a2a" stroke="#2a2a2a" stroke-width="0.2">200</text>
<line x1="285.58" y1="129.4" x2="285.58" y2="132" stroke="#222" stroke-width="1.1" />
<text x="285.58" y="141.8" font-size="7" text-anchor="middle" textLength="10.8" lengthAdjust="spacingAndGlyphs" fill="#2a2a2a" stroke="#2a2a2a" stroke-width="0.2">300</text>
<line x1="311.94" y1="129.4" x2="311.94" y2="132" stroke="#222" stroke-width="1.1" />
<text x="311.94" y="141.8" font-size="7" text-anchor="middle" textLength="10.8" lengthAdjust="spacingAndGlyphs" fill="#2a2a2a" stroke="#2a2a2a" stroke-width="0.2">400</text>
<line x1="338.3" y1="129.4" x2="338.3" y2="132" stroke="#222" stroke-width="1.1" />
<text x="338.3" y="141.8" font-size="7" text-anchor="middle" textLength="10.8" lengthAdjust="spacingAndGlyphs" fill="#2a2a2a" stroke="#2a2a2a" stroke-width="0.2">500</text>
<text x="273.5" y="153.7" font-size="9.3" text-anchor="middle" textLength="29" lengthAdjust="spacingAndGlyphs" stroke="#222" stroke-width="0.2">Position</text>
<text x="325.2" y="38" font-size="5.4" text-anchor="end" textLength="42.2" lengthAdjust="spacingAndGlyphs" fill="#333" stroke="#333" stroke-width="0.05">Hphob. / Roseman</text>
<line x1="328.5" y1="36.6" x2="336.7" y2="36.6" stroke="#a9bad2" stroke-width="0.9" />
<text x="445.1" y="14.9" font-size="9.6" text-anchor="middle" textLength="37.5" lengthAdjust="spacingAndGlyphs" stroke="#222" stroke-width="0.2">GCSFR WT</text>
<text x="445.1" y="25.6" font-size="7.1" text-anchor="middle" textLength="96.5" lengthAdjust="spacingAndGlyphs" stroke="#222" stroke-width="0.2">ProtScale output for user sequence</text>
<path d="M377.7 30.5 L512.5 30.5 L512.5 129.4" fill="none" stroke="#151515" stroke-width="1.05"/>
<path d="M377.86 80.71 L378.02 76.03 L378.18 77.13 L378.34 69.49 L378.51 64.74 L378.67 61.01 L378.83 61.07 L378.99 57.96 L379.15 53.45 L379.31 50.7 L379.47 44.83 L379.63 45.77 L379.8 43.86 L379.96 42.95 L380.12 47.36 L380.28 57.31 L380.44 61.52 L380.6 66.15 L380.76 66.16 L380.92 71.54 L381.09 78.86 L381.25 89.68 L381.41 94.9 L381.57 98.02 L381.73 95.31 L381.89 91.13 L382.05 87.44 L382.21 77.86 L382.37 73.28 L382.54 72.11 L382.7 71.8 L382.86 68.75 L383.02 72.92 L383.18 66.52 L383.34 65.88 L383.5 66.74 L383.66 68.53 L383.83 73.57 L383.99 75.2 L384.15 79.18 L384.31 80.77 L384.47 81.5 L384.63 83.51 L384.79 83.7 L384.95 84.24 L385.12 84.75 L385.28 86.47 L385.44 90.3 L385.6 92.86 L385.76 90.9 L385.92 90.97 L386.08 92.44 L386.24 97.91 L386.4 102.62 L386.57 103.8 L386.73 95.1 L386.89 85.73 L387.05 82.5 L387.21 73.6 L387.37 71.95 L387.53 72.27 L387.69 71.18 L387.86 77.63 L388.02 83.78 L388.18 84.34 L388.34 89.77 L388.5 89.92 L388.66 91.43 L388.82 91.1 L388.98 96.87 L389.15 99.15 L389.31 105.51 L389.47 110.34 L389.63 115.26 L389.79 115.45 L389.95 114.65 L390.11 122.86 L390.27 120.82 L390.43 117.04 L390.6 114.83 L390.76 108.13 L390.92 103.38 L391.08 99.29 L391.24 92.49 L391.4 90.68 L391.56 89.89 L391.72 87.79 L391.89 86.51 L392.05 83.76 L392.21 79.09 L392.37 76.14 L392.53 71.59 L392.69 71.2 L392.85 73.7 L393.01 69.18 L393.18 72.13 L393.34 76.96 L393.5 82.46 L393.66 80.4 L393.82 80.92 L393.98 76.14 L394.14 75.19 L394.3 69.4 L394.46 66.37 L394.63 65.15 L394.79 66.97 L394.95 72.2 L395.11 79.9 L395.27 83.18 L395.43 89.39 L395.59 94.93 L395.75 92.85 L395.92 94.77 L396.08 90.55 L396.24 85.5 L396.4 78.6 L396.56 77.82 L396.72 74.29 L396.88 73.29 L397.04 72.24 L397.21 68.75 L397.37 68.28 L397.53 64.22 L397.69 64.02 L397.85 59.53 L398.01 61.71 L398.17 64.35 L398.33 64.74 L398.49 69.22 L398.66 72.23 L398.82 77.11 L398.98 74.9 L399.14 75.14 L399.3 74.45 L399.46 73.09 L399.62 77.73 L399.78 81.79 L399.95 80.33 L400.11 82.19 L400.27 83.91 L400.43 79.17 L400.59 80.64 L400.75 76.37 L400.91 73.34 L401.07 70.3 L401.24 72.29 L401.4 72.89 L401.56 77.98 L401.72 78.34 L401.88 78.08 L402.04 78.37 L402.2 83.22 L402.36 86.06 L402.52 84.83 L402.69 86.36 L402.85 86.66 L403.01 87.16 L403.17 89.95 L403.33 93.63 L403.49 98.49 L403.65 99.54 L403.81 105.54 L403.98 108.12 L404.14 111.47 L404.3 115.85 L404.46 118.58 L404.62 116.61 L404.78 110.04 L404.94 106.28 L405.1 100.88 L405.27 97.37 L405.43 96.35 L405.59 94.42 L405.75 90.42 L405.91 93.51 L406.07 88.22 L406.23 87.84 L406.39 87.02 L406.55 84.06 L406.72 92.01 L406.88 88.29 L407.04 89.69 L407.2 87.22 L407.36 85.56 L407.52 88.03 L407.68 87.5 L407.84 86.61 L408.01 85.36 L408.17 84.64 L408.33 77.81 L408.49 76.12 L408.65 73.31 L408.81 66.79 L408.97 65.86 L409.13 67.79 L409.3 62.53 L409.46 61.1 L409.62 62.32 L409.78 64.59 L409.94 69.01 L410.1 75.29 L410.26 76.04 L410.42 79.39 L410.58 77.08 L410.75 79.65 L410.91 85.71 L411.07 87.68 L411.23 86.79 L411.39 93.61 L411.55 93.42 L411.71 95.34 L411.87 95.61 L412.04 87.68 L412.2 87.71 L412.36 81.2 L412.52 80.77 L412.68 75.34 L412.84 76.56 L413 76.28 L413.16 79.34 L413.33 81.24 L413.49 80.84 L413.65 80.3 L413.81 79.86 L413.97 82.81 L414.13 82.17 L414.29 78.61 L414.45 77.88 L414.61 75.43 L414.78 77.75 L414.94 75.66 L415.1 80.56 L415.26 91.15 L415.42 100.38 L415.58 103.71 L415.74 105.58 L415.9 102.83 L416.07 97.86 L416.23 84.33 L416.39 82.46 L416.55 78.98 L416.71 82.89 L416.87 81.82 L417.03 79.63 L417.19 78.93 L417.36 74.29 L417.52 71.57 L417.68 65.21 L417.84 64.22 L418 60.08 L418.16 60.57 L418.32 60.82 L418.48 62.47 L418.64 67.14 L418.81 68.17 L418.97 68.72 L419.13 69.47 L419.29 69.81 L419.45 74.36 L419.61 84.53 L419.77 92.99 L419.93 95.53 L420.1 94.6 L420.26 98.05 L420.42 104.05 L420.58 108.61 L420.74 108.88 L420.9 113.9 L421.06 116.43 L421.22 111.83 L421.39 104.04 L421.55 92.74 L421.71 83.29 L421.87 77.74 L422.03 76.29 L422.19 72.41 L422.35 68.67 L422.51 60.32 L422.67 54.19 L422.84 45.74 L423 45.8 L423.16 43.4 L423.32 45.5 L423.48 50.05 L423.64 52.41 L423.8 57.33 L423.96 62.97 L424.13 62.91 L424.29 65.74 L424.45 66.79 L424.61 63.22 L424.77 65.79 L424.93 66.65 L425.09 70.13 L425.25 67.89 L425.42 67.79 L425.58 68.64 L425.74 71.8 L425.9 71.47 L426.06 66.25 L426.22 68.42 L426.38 64.99 L426.54 69.03 L426.7 71.87 L426.87 76.18 L427.03 80.64 L427.19 81.31 L427.35 86.74 L427.51 90.12 L427.67 92.53 L427.83 87.82 L427.99 80.33 L428.16 78.06 L428.32 71.85 L428.48 75.43 L428.64 71.08 L428.8 67.91 L428.96 77.2 L429.12 80.72 L429.28 85.21 L429.45 87.82 L429.61 87.72 L429.77 94.23 L429.93 98.07 L430.09 102.53 L430.25 106.17 L430.41 107.95 L430.57 111.35 L430.73 108.5 L430.9 108.73 L431.06 109.84 L431.22 106.13 L431.38 102.11 L431.54 100.16 L431.7 104.99 L431.86 102.34 L432.02 106.29 L432.19 110.76 L432.35 115.99 L432.51 119.81 L432.67 116.67 L432.83 117.83 L432.99 121.02 L433.15 127.56 L433.31 128.31 L433.48 128.31 L433.64 127.25 L433.8 123.61 L433.96 112.27 L434.12 103.26 L434.28 92.76 L434.44 88.13 L434.6 81.59 L434.76 78.96 L434.93 71.8 L435.09 64.01 L435.25 61.17 L435.41 59.71 L435.57 62.15 L435.73 61.86 L435.89 73.47 L436.05 81.43 L436.22 89.47 L436.38 92.43 L436.54 92.85 L436.7 94.97 L436.86 99.4 L437.02 110.03 L437.18 119.54 L437.34 119.2 L437.51 107.9 L437.67 108.24 L437.83 100.4 L437.99 92.13 L438.15 84.95 L438.31 82.88 L438.47 80.27 L438.63 80.93 L438.79 78.85 L438.96 70.58 L439.12 65.04 L439.28 64.93 L439.44 66.24 L439.6 64.9 L439.76 69.11 L439.92 77.73 L440.08 78.85 L440.25 82.2 L440.41 83.86 L440.57 83.77 L440.73 85.99 L440.89 90.06 L441.05 94.2 L441.21 94.39 L441.37 95.47 L441.54 95.86 L441.7 96.5 L441.86 92.81 L442.02 90.11 L442.18 83.71 L442.34 78.39 L442.5 76.03 L442.66 75.71 L442.82 80.04 L442.99 83.69 L443.15 84.94 L443.31 89.31 L443.47 92.49 L443.63 89.33 L443.79 93.08 L443.95 90.47 L444.11 88.55 L444.28 85.57 L444.44 82.63 L444.6 80.18 L444.76 78.84 L444.92 77.14 L445.08 77.9 L445.24 80.06 L445.4 80.01 L445.57 83.66 L445.73 85.75 L445.89 86.76 L446.05 91.26 L446.21 93.5 L446.37 89.16 L446.53 87.36 L446.69 81.55 L446.85 80.29 L447.02 76.93 L447.18 75.46 L447.34 79.91 L447.5 83.83 L447.66 89.8 L447.82 98.62 L447.98 106.41 L448.14 105.11 L448.31 98.77 L448.47 96.94 L448.63 87.34 L448.79 85.76 L448.95 79.88 L449.11 83.06 L449.27 79.68 L449.43 76.77 L449.6 79.22 L449.76 73.64 L449.92 70.82 L450.08 69.5 L450.24 66.72 L450.4 69.83 L450.56 69.54 L450.72 68.67 L450.88 69.23 L451.05 67.48 L451.21 67.38 L451.37 66.62 L451.53 66.68 L451.69 66.73 L451.85 66.16 L452.01 61.5 L452.17 59.48 L452.34 62.78 L452.5 66.47 L452.66 70.94 L452.82 75.75 L452.98 84.52 L453.14 96.98 L453.3 100.04 L453.46 100.69 L453.63 100.31 L453.79 104.23 L453.95 104.83 L454.11 103.77 L454.27 107.6 L454.43 108.69 L454.59 110.21 L454.75 112.37 L454.91 110.77 L455.08 111.28 L455.24 116.96 L455.4 114.85 L455.56 115.06 L455.72 112.35 L455.88 105.02 L456.04 97.7 L456.2 94.5 L456.37 95.2 L456.53 92.39 L456.69 86.26 L456.85 82.53 L457.01 79.81 L457.17 81.56 L457.33 83.51 L457.49 78.47 L457.66 74.11 L457.82 70.2 L457.98 68.75 L458.14 63.43 L458.3 60.19 L458.46 57.56 L458.62 60.38 L458.78 61.39 L458.94 66.48 L459.11 75.85 L459.27 84.12 L459.43 87.55 L459.59 88.61 L459.75 82.96 L459.91 88.65 L460.07 92.63 L460.23 96.64 L460.4 101.96 L460.56 106.27 L460.72 103.72 L460.88 98.07 L461.04 88.95 L461.2 82.61 L461.36 81.84 L461.52 81.15 L461.69 81.79 L461.85 80.78 L462.01 80.61 L462.17 87.88 L462.33 88.69 L462.49 89.99 L462.65 90.59 L462.81 89.65 L462.97 86.85 L463.14 91.04 L463.3 93.48 L463.46 90.95 L463.62 94.05 L463.78 94.7 L463.94 97.2 L464.1 91.16 L464.26 95.2 L464.43 87.02 L464.59 82.05 L464.75 84.9 L464.91 85.42 L465.07 85.62 L465.23 80.57 L465.39 78.8 L465.55 74.53 L465.72 69.32 L465.88 69.78 L466.04 73.28 L466.2 76.07 L466.36 75.81 L466.52 81 L466.68 84.85 L466.84 88.73 L467 92.2 L467.17 91.13 L467.33 90.79 L467.49 83.53 L467.65 76.98 L467.81 71.6 L467.97 66.48 L468.13 66.08 L468.29 61.12 L468.46 60.53 L468.62 61.63 L468.78 69 L468.94 71.82 L469.1 77.47 L469.26 76.79 L469.42 80.29 L469.58 81.74 L469.75 85.39 L469.91 90.97 L470.07 93.25 L470.23 92.52 L470.39 92.78 L470.55 91.7 L470.71 91.07 L470.87 88.07 L471.03 87.51 L471.2 86.62 L471.36 85.94 L471.52 84.24 L471.68 80 L471.84 77.37 L472 76.31 L472.16 74.44 L472.32 74.97 L472.49 72.02 L472.65 67.53 L472.81 68.84 L472.97 67.38 L473.13 66.75 L473.29 63.9 L473.45 60.14 L473.61 55.92 L473.78 57.52 L473.94 60.48 L474.1 62.79 L474.26 69.25 L474.42 69.8 L474.58 68.69 L474.74 75.03 L474.9 79.61 L475.06 82.41 L475.23 86.89 L475.39 93.89 L475.55 91.24 L475.71 94.28 L475.87 96.62 L476.03 94.84 L476.19 90.76 L476.35 87.13 L476.52 89.34 L476.68 82.82 L476.84 84 L477 86.11 L477.16 82.07 L477.32 77.01 L477.48 74.91 L477.64 73.65 L477.81 66.61 L477.97 67.83 L478.13 65.42 L478.29 61.4 L478.45 61.56 L478.61 58.85 L478.77 62.57 L478.93 56.96 L479.09 53.73 L479.26 53.06 L479.42 48.37 L479.58 45.52 L479.74 46.49 L479.9 47.75 L480.06 47.37 L480.22 49.75 L480.38 52.56 L480.55 55.46 L480.71 55.68 L480.87 59.77 L481.03 58.37 L481.19 59.24 L481.35 60.22 L481.51 64.35 L481.67 62.11 L481.84 64.15 L482 70.39 L482.16 75.21 L482.32 80.72 L482.48 88.72 L482.64 96.82 L482.8 105.48 L482.96 106.32 L483.12 104.16 L483.29 100.08 L483.45 96.81 L483.61 89.92 L483.77 86.12 L483.93 85.56 L484.09 79.7 L484.25 76.98 L484.41 80.14 L484.58 80.48 L484.74 79.16 L484.9 81.27 L485.06 83.15 L485.22 82.71 L485.38 79.21 L485.54 75.13 L485.7 69.32 L485.87 64.67 L486.03 63.71 L486.19 66.09 L486.35 64.77 L486.51 68.26 L486.67 78.07 L486.83 78.04 L486.99 82.52 L487.15 87.67 L487.32 91.69 L487.48 88.88 L487.64 83.71 L487.8 81.8 L487.96 71.32 L488.12 61.43 L488.28 61.14 L488.44 61.65 L488.61 58.5 L488.77 61.14 L488.93 66.84 L489.09 75.85 L489.25 77.96 L489.41 83.25 L489.57 81.78 L489.73 88.78 L489.9 93.22 L490.06 98.92 L490.22 113.84 L490.38 116.35 L490.54 118.61 L490.7 113.14 L490.86 113.4 L491.02 111.29 L491.18 101.63 L491.35 99.64 L491.51 97.67 L491.67 97.88 L491.83 100.59 L491.99 100.93 L492.15 101.97 L492.31 96.14 L492.47 101.41 L492.64 101.14 L492.8 97.69 L492.96 96.97 L493.12 96.75 L493.28 94.26 L493.44 86.11 L493.6 84.08 L493.76 81.68 L493.93 77.76 L494.09 70.53 L494.25 66.17 L494.41 62.86 L494.57 68.37 L494.73 73.12 L494.89 75.31 L495.05 78.35 L495.21 80.89 L495.38 83.14 L495.54 85.17 L495.7 87.15 L495.86 88.34 L496.02 94.42 L496.18 93.76 L496.34 99.92 L496.5 102.19 L496.67 98.24 L496.83 102.72 L496.99 106.13 L497.15 103.75 L497.31 108.83 L497.47 114.92 L497.63 111.47 L497.79 111.64 L497.96 109.36 L498.12 101.17 L498.28 91.18 L498.44 80.65 L498.6 72.38 L498.76 68.65 L498.92 71.39 L499.08 65.85 L499.24 70.72 L499.41 68.35 L499.57 72.58 L499.73 71.06 L499.89 74.57 L500.05 78.96 L500.21 73.69 L500.37 79.73 L500.53 81.88 L500.7 85.24 L500.86 88.99 L501.02 92.99 L501.18 93.21 L501.34 93.45 L501.5 93.97 L501.66 96.2 L501.82 98.72 L501.99 93.48 L502.15 92.16 L502.31 92.28 L502.47 87.62 L502.63 83.62 L502.79 77.37 L502.95 69.61 L503.11 64.4 L503.27 66.26 L503.44 69.33 L503.6 72.52 L503.76 75.21 L503.92 84.07 L504.08 85.79 L504.24 93.91 L504.4 91.02 L504.56 92.15 L504.73 86.89 L504.89 76.93 L505.05 66.21 L505.21 64.25 L505.37 65.74 L505.53 64.75 L505.69 68.46 L505.85 71.11 L506.02 71.9 L506.18 70.93 L506.34 69.97 L506.5 72.35 L506.66 83.88 L506.82 97.65 L506.98 109.2 L507.14 117.78 L507.3 115.57 L507.47 113.18 L507.63 101.5 L507.79 95.43 L507.95 89.03 L508.11 89.65 L508.27 87.54 L508.43 84.6 L508.59 77.42 L508.76 67.93 L508.92 58.52 L509.08 51.58 L509.24 50.18 L509.4 54.28 L509.56 56.15 L509.72 56.45 L509.88 61.24 L510.05 65.3 L510.21 68.15 L510.37 63.46 L510.53 67.75 L510.69 72.9 L510.85 73.86 L511.01 76.98 L511.17 82.04 L511.33 81.97 L511.5 83.24 L511.66 86.63 L511.82 85.74 L511.98 82.23" fill="none" stroke="#aebdd2" stroke-width="0.6" stroke-linejoin="round"/>
<path d="M377.86 77.81 L378.02 73.91 L378.18 75.04 L378.34 68.67 L378.51 64.78 L378.67 61.75 L378.83 61.93 L378.99 59.36 L379.15 55.53 L379.31 53.19 L379.47 48.16 L379.63 48.98 L379.8 47.34 L379.96 46.57 L380.12 50.36 L380.28 58.91 L380.44 62.52 L380.6 66.5 L380.76 66.53 L380.92 71.18 L381.09 77.47 L381.25 86.78 L381.41 91.29 L381.57 94.02 L381.73 91.76 L381.89 88.25 L382.05 85.16 L382.21 77.02 L382.37 73.22 L382.54 72.36 L382.7 72.26 L382.86 69.81 L383.02 73.57 L383.18 68.26 L383.34 67.9 L383.5 68.81 L383.66 70.47 L383.83 74.87 L383.99 76.34 L384.15 79.76 L384.31 81.11 L384.47 81.67 L384.63 83.32 L384.79 83.4 L384.95 83.83 L385.12 84.24 L385.28 85.74 L385.44 89.07 L385.6 91.34 L385.76 89.72 L385.92 89.86 L386.08 91.25 L386.24 96.06 L386.4 100.27 L386.57 101.47 L386.73 94.15 L386.89 86.26 L387.05 83.66 L387.21 76.17 L387.37 74.89 L387.53 75.29 L387.69 74.44 L387.86 80.07 L388.02 85.4 L388.18 85.92 L388.34 90.61 L388.5 90.76 L388.66 92.04 L388.82 91.74 L388.98 96.67 L389.15 98.59 L389.31 104 L389.47 108.06 L389.63 112.18 L389.79 112.24 L389.95 111.45 L390.11 118.46 L390.27 116.69 L390.43 113.47 L390.6 111.6 L390.76 105.87 L390.92 101.81 L391.08 98.28 L391.24 92.38 L391.4 90.76 L391.56 89.99 L391.72 88.1 L391.89 86.93 L392.05 84.53 L392.21 80.46 L392.37 77.89 L392.53 73.94 L392.69 73.54 L392.85 75.61 L393.01 71.64 L393.18 74.07 L393.34 78.07 L393.5 82.64 L393.66 80.72 L393.82 81.02 L393.98 76.78 L394.14 75.84 L394.3 70.74 L394.46 68.04 L394.63 66.89 L394.79 68.34 L394.95 72.75 L395.11 79.3 L395.27 82.04 L395.43 87.35 L395.59 92.1 L395.75 90.33 L395.92 92 L396.08 88.38 L396.24 84.05 L396.4 78.12 L396.56 77.45 L396.72 74.41 L396.88 73.55 L397.04 72.65 L397.21 69.68 L397.37 69.29 L397.53 65.84 L397.69 65.71 L397.85 61.87 L398.01 63.76 L398.17 66.03 L398.33 66.34 L398.49 70.17 L398.66 72.72 L398.82 76.86 L398.98 74.91 L399.14 75.07 L399.3 74.46 L399.46 73.29 L399.62 77.3 L399.78 80.83 L399.95 79.62 L400.11 81.28 L400.27 82.83 L400.43 78.87 L400.59 80.24 L400.75 76.72 L400.91 74.27 L401.07 71.84 L401.24 73.75 L401.4 74.46 L401.56 79.02 L401.72 79.48 L401.88 79.38 L402.04 79.71 L402.2 83.96 L402.36 86.49 L402.52 85.5 L402.69 86.88 L402.85 87.19 L403.01 87.64 L403.17 90.07 L403.33 93.25 L403.49 97.43 L403.65 98.38 L403.81 103.57 L403.98 105.83 L404.14 108.76 L404.3 112.58 L404.46 114.99 L404.62 113.35 L404.78 107.73 L404.94 104.53 L405.1 99.91 L405.27 96.88 L405.43 95.98 L405.59 94.27 L405.75 90.77 L405.91 93.35 L406.07 88.74 L406.23 88.32 L406.39 87.51 L406.55 84.86 L406.72 91.57 L406.88 88.26 L407.04 89.35 L407.2 87.12 L407.36 85.57 L407.52 87.56 L407.68 86.96 L407.84 86.09 L408.01 84.93 L408.17 84.24 L408.33 78.34 L408.49 76.87 L408.65 74.46 L408.81 68.85 L408.97 68.04 L409.13 69.68 L409.3 65.13 L409.46 63.87 L409.62 64.89 L409.78 66.8 L409.94 70.55 L410.1 75.92 L410.26 76.54 L410.42 79.4 L410.58 77.39 L410.75 79.57 L410.91 84.76 L411.07 86.44 L411.23 85.65 L411.39 91.5 L411.55 91.32 L411.71 92.98 L411.87 93.22 L412.04 86.45 L412.2 86.56 L412.36 81.08 L412.52 80.86 L412.68 76.35 L412.84 77.54 L413 77.43 L413.16 80.11 L413.33 81.77 L413.49 81.44 L413.65 80.98 L413.81 80.63 L413.97 83.16 L414.13 82.59 L414.29 79.48 L414.45 78.8 L414.61 76.59 L414.78 78.48 L414.94 76.55 L415.1 80.64 L415.26 89.65 L415.42 97.5 L415.58 100.31 L415.74 101.88 L415.9 99.48 L416.07 95.19 L416.23 83.53 L416.39 81.9 L416.55 78.92 L416.71 82.32 L416.87 81.46 L417.03 79.63 L417.19 79.09 L417.36 75.17 L417.52 72.94 L417.68 67.58 L417.84 66.87 L418 63.45 L418.16 64 L418.32 64.3 L418.48 65.72 L418.64 69.68 L418.81 70.47 L418.97 70.84 L419.13 71.37 L419.29 71.56 L419.45 75.39 L419.61 84.03 L419.77 91.19 L419.93 93.24 L420.1 92.31 L420.26 95.15 L420.42 100.2 L420.58 104.05 L420.74 104.23 L420.9 108.53 L421.06 110.71 L421.22 106.77 L421.39 100.09 L421.55 90.39 L421.71 82.27 L421.87 77.5 L422.03 76.26 L422.19 72.92 L422.35 69.7 L422.51 62.51 L422.67 57.23 L422.84 49.92 L423 49.87 L423.16 47.71 L423.32 49.41 L423.48 53.22 L423.64 55.13 L423.8 59.25 L423.96 63.99 L424.13 63.83 L424.29 66.15 L424.45 66.98 L424.61 63.86 L424.77 66.06 L424.93 66.79 L425.09 69.78 L425.25 67.84 L425.42 67.77 L425.58 68.5 L425.74 71.25 L425.9 71.05 L426.06 66.68 L426.22 68.69 L426.38 65.91 L426.54 69.53 L426.7 72.13 L426.87 76 L427.03 79.99 L427.19 80.73 L427.35 85.56 L427.51 88.63 L427.67 90.85 L427.83 86.96 L427.99 80.69 L428.16 78.87 L428.32 73.65 L428.48 76.84 L428.64 73.23 L428.8 70.63 L428.96 78.74 L429.12 81.91 L429.28 85.95 L429.45 88.38 L429.61 88.48 L429.77 94.25 L429.93 97.73 L430.09 101.75 L430.25 105.05 L430.41 106.75 L430.57 109.82 L430.73 107.49 L430.9 107.76 L431.06 108.77 L431.22 105.63 L431.38 102.21 L431.54 100.56 L431.7 104.73 L431.86 102.45 L432.02 105.83 L432.19 109.62 L432.35 114.04 L432.51 117.25 L432.67 114.45 L432.83 115.39 L432.99 118.1 L433.15 123.68 L433.31 124.29 L433.48 124.25 L433.64 123.29 L433.8 120.11 L433.96 110.37 L434.12 102.66 L434.28 93.67 L434.44 89.69 L434.6 84.09 L434.76 81.82 L434.93 75.62 L435.09 68.86 L435.25 66.34 L435.41 64.97 L435.57 66.94 L435.73 66.55 L435.89 76.36 L436.05 83.02 L436.22 89.73 L436.38 92.06 L436.54 92.19 L436.7 93.8 L436.86 97.44 L437.02 106.42 L437.18 114.49 L437.34 114.13 L437.51 104.37 L437.67 104.66 L437.83 97.95 L437.99 90.89 L438.15 84.79 L438.31 83.13 L438.47 81.01 L438.63 81.71 L438.79 80.03 L438.96 73.01 L439.12 68.29 L439.28 68.18 L439.44 69.27 L439.6 68.05 L439.76 71.62 L439.92 79 L440.08 79.91 L440.25 82.72 L440.41 84.05 L440.57 83.86 L440.73 85.72 L440.89 89.16 L441.05 92.67 L441.21 92.81 L441.37 93.73 L441.54 94.05 L441.7 94.6 L441.86 91.41 L442.02 89.09 L442.18 83.62 L442.34 79.1 L442.5 77.14 L442.66 76.93 L442.82 80.74 L442.99 83.95 L443.15 85.09 L443.31 88.88 L443.47 91.63 L443.63 88.91 L443.79 92.12 L443.95 89.84 L444.11 88.14 L444.28 85.53 L444.44 82.96 L444.6 80.83 L444.76 79.69 L444.92 78.27 L445.08 78.96 L445.24 80.85 L445.4 80.86 L445.57 84.02 L445.73 85.86 L445.89 86.74 L446.05 90.62 L446.21 92.54 L446.37 88.77 L446.53 87.18 L446.69 82.13 L446.85 80.97 L447.02 78 L447.18 76.65 L447.34 80.41 L447.5 83.72 L447.66 88.81 L447.82 96.35 L447.98 103.01 L448.14 101.86 L448.31 96.37 L448.47 94.75 L448.63 86.44 L448.79 85.02 L448.95 79.87 L449.11 82.51 L449.27 79.51 L449.43 76.9 L449.6 78.95 L449.76 74.1 L449.92 71.69 L450.08 70.61 L450.24 68.3 L450.4 71.07 L450.56 70.9 L450.72 70.22 L450.88 70.76 L451.05 69.27 L451.21 69.19 L451.37 68.55 L451.53 68.64 L451.69 68.74 L451.85 68.33 L452.01 64.42 L452.17 62.81 L452.34 65.77 L452.5 69.07 L452.66 73.04 L452.82 77.27 L452.98 84.89 L453.14 95.69 L453.3 98.42 L453.46 99.07 L453.63 98.8 L453.79 102.22 L453.95 102.78 L454.11 101.91 L454.27 105.26 L454.43 106.24 L454.59 107.57 L454.75 109.44 L454.91 108.07 L455.08 108.5 L455.24 113.38 L455.4 111.56 L455.56 111.73 L455.72 109.38 L455.88 103.06 L456.04 96.77 L456.2 94.02 L456.37 94.58 L456.53 92.12 L456.69 86.79 L456.85 83.54 L457.01 81.16 L457.17 82.64 L457.33 84.31 L457.49 79.97 L457.66 76.2 L457.82 72.79 L457.98 71.46 L458.14 66.78 L458.3 63.89 L458.46 61.5 L458.62 63.81 L458.78 64.56 L458.94 68.82 L459.11 76.81 L459.27 83.9 L459.43 86.83 L459.59 87.72 L459.75 82.86 L459.91 87.75 L460.07 91.2 L460.23 94.7 L460.4 99.31 L460.56 103.05 L460.72 100.92 L460.88 96.14 L461.04 88.38 L461.2 83.02 L461.36 82.45 L461.52 81.92 L461.69 82.57 L461.85 81.8 L462.01 81.74 L462.17 88.04 L462.33 88.75 L462.49 89.83 L462.65 90.28 L462.81 89.41 L462.97 86.96 L463.14 90.52 L463.3 92.56 L463.46 90.32 L463.62 92.93 L463.78 93.43 L463.94 95.54 L464.1 90.32 L464.26 93.79 L464.43 86.77 L464.59 82.47 L464.75 84.89 L464.91 85.28 L465.07 85.4 L465.23 80.99 L465.39 79.37 L465.55 75.6 L465.72 71.04 L465.88 71.37 L466.04 74.34 L466.2 76.7 L466.36 76.44 L466.52 80.86 L466.68 84.15 L466.84 87.48 L467 90.46 L467.17 89.52 L467.33 89.23 L467.49 82.98 L467.65 77.36 L467.81 72.75 L467.97 68.36 L468.13 68.02 L468.29 63.76 L468.46 63.26 L468.62 64.21 L468.78 70.56 L468.94 73.01 L469.1 77.89 L469.26 77.31 L469.42 80.3 L469.58 81.52 L469.75 84.61 L469.91 89.35 L470.07 91.23 L470.23 90.5 L470.39 90.62 L470.55 89.56 L470.71 88.93 L470.87 86.29 L471.03 85.77 L471.2 85.02 L471.36 84.44 L471.52 83.02 L471.68 79.42 L471.84 77.22 L472 76.36 L472.16 74.8 L472.32 75.32 L472.49 72.84 L472.65 69.02 L472.81 70.2 L472.97 68.98 L473.13 68.44 L473.29 65.97 L473.45 62.72 L473.61 59.05 L473.78 60.4 L473.94 62.93 L474.1 64.9 L474.26 70.41 L474.42 70.84 L474.58 69.84 L474.74 75.23 L474.9 79.13 L475.06 81.5 L475.23 85.29 L475.39 91.27 L475.55 88.94 L475.71 91.51 L475.87 93.49 L476.03 91.9 L476.19 88.34 L476.35 85.15 L476.52 86.99 L476.68 81.34 L476.84 82.32 L477 84.1 L477.16 80.58 L477.32 76.2 L477.48 74.34 L477.64 73.2 L477.81 67.12 L477.97 68.11 L478.13 65.96 L478.29 62.42 L478.45 62.48 L478.61 60.04 L478.77 63.14 L478.93 58.23 L479.09 55.37 L479.26 54.75 L479.42 50.7 L479.58 48.29 L479.74 49.18 L479.9 50.35 L480.06 50.1 L480.22 52.19 L480.38 54.66 L480.55 57.21 L480.71 57.43 L480.87 61 L481.03 59.83 L481.19 60.62 L481.35 61.51 L481.51 65.13 L481.67 63.27 L481.84 65.11 L482 70.54 L482.16 74.78 L482.32 79.61 L482.48 86.57 L482.64 93.61 L482.8 101.13 L482.96 101.92 L483.12 100.12 L483.29 96.68 L483.45 93.93 L483.61 88.1 L483.77 84.91 L483.93 84.53 L484.09 79.58 L484.25 77.36 L484.41 80.19 L484.58 80.57 L484.74 79.49 L484.9 81.34 L485.06 82.95 L485.22 82.54 L485.38 79.47 L485.54 75.89 L485.7 70.79 L485.87 66.69 L486.03 65.75 L486.19 67.7 L486.35 66.49 L486.51 69.43 L486.67 77.83 L486.83 77.82 L486.99 81.71 L487.15 86.24 L487.32 89.83 L487.48 87.57 L487.64 83.24 L487.8 81.72 L487.96 72.82 L488.12 64.39 L488.28 64.2 L488.44 64.69 L488.61 62.05 L488.77 64.41 L488.93 69.42 L489.09 77.31 L489.25 79.24 L489.41 83.91 L489.57 82.78 L489.73 88.91 L489.9 92.79 L490.06 97.76 L490.22 110.63 L490.38 112.79 L490.54 114.7 L490.7 109.98 L490.86 110.18 L491.02 108.32 L491.18 99.99 L491.35 98.29 L491.51 96.62 L491.67 96.84 L491.83 99.23 L491.99 99.58 L492.15 100.53 L492.31 95.55 L492.47 100.1 L492.64 99.89 L492.8 96.94 L492.96 96.34 L493.12 96.15 L493.28 94.01 L493.44 86.97 L493.6 85.16 L493.76 83.03 L493.93 79.64 L494.09 73.38 L494.25 69.63 L494.41 66.83 L494.57 71.61 L494.73 75.75 L494.89 77.67 L495.05 80.29 L495.21 82.43 L495.38 84.29 L495.54 85.95 L495.7 87.54 L495.86 88.45 L496.02 93.57 L496.18 92.91 L496.34 98.11 L496.5 99.98 L496.67 96.53 L496.83 100.35 L496.99 103.27 L497.15 101.21 L497.31 105.61 L497.47 110.9 L497.63 108.02 L497.79 108.24 L497.96 106.35 L498.12 99.37 L498.28 90.83 L498.44 81.82 L498.6 74.76 L498.76 71.6 L498.92 73.98 L499.08 69.23 L499.24 73.41 L499.41 71.34 L499.57 74.93 L499.73 73.53 L499.89 76.44 L500.05 80.09 L500.21 75.41 L500.37 80.48 L500.53 82.2 L500.7 84.94 L500.86 88.07 L501.02 91.42 L501.18 91.55 L501.34 91.72 L501.5 92.18 L501.66 94.12 L501.82 96.3 L501.99 91.78 L502.15 90.62 L502.31 90.73 L502.47 86.69 L502.63 83.26 L502.79 77.87 L502.95 71.2 L503.11 66.71 L503.27 68.28 L503.44 70.91 L503.6 73.67 L503.76 76.04 L503.92 83.75 L504.08 85.33 L504.24 92.39 L504.4 89.98 L504.56 90.98 L504.73 86.46 L504.89 77.87 L505.05 68.62 L505.21 66.91 L505.37 68.17 L505.53 67.26 L505.69 70.38 L505.85 72.57 L506.02 73.16 L506.18 72.25 L506.34 71.39 L506.5 73.4 L506.66 83.27 L506.82 95.07 L506.98 104.97 L507.14 112.29 L507.3 110.31 L507.47 108.16 L507.63 98.05 L507.79 92.76 L507.95 87.22 L508.11 87.78 L508.27 86.02 L508.43 83.56 L508.59 77.46 L508.76 69.37 L508.92 61.33 L509.08 55.39 L509.24 54.21 L509.4 57.77 L509.56 59.42 L509.72 59.7 L509.88 63.81 L510.05 67.22 L510.21 69.53 L510.37 65.31 L510.53 68.82 L510.69 73.05 L510.85 73.74 L511.01 76.3 L511.17 80.55 L511.33 80.39 L511.5 81.38 L511.66 84.2 L511.82 83.38 L511.98 80.37" fill="none" stroke="#2c4a78" stroke-width="0.5" stroke-opacity="0.85" stroke-linejoin="round"/>
<line x1="377.7" y1="30" x2="377.7" y2="130" stroke="#3a3a3a" stroke-width="1.6" />
<line x1="377" y1="129.4" x2="513" y2="129.4" stroke="#3a3a3a" stroke-width="1.6" />
<line x1="374.5" y1="30.5" x2="377.7" y2="30.5" stroke="#222" stroke-width="1.1" />
<text x="372.1" y="32.9" font-size="6.8" text-anchor="end" textLength="3.45" lengthAdjust="spacingAndGlyphs" fill="#2a2a2a" stroke="#2a2a2a" stroke-width="0.2">2</text>
<line x1="374.5" y1="42.86" x2="377.7" y2="42.86" stroke="#222" stroke-width="1.1" />
<text x="372.1" y="45.26" font-size="6.8" text-anchor="end" textLength="8.75" lengthAdjust="spacingAndGlyphs" fill="#2a2a2a" stroke="#2a2a2a" stroke-width="0.2">1.5</text>
<line x1="374.5" y1="55.23" x2="377.7" y2="55.23" stroke="#222" stroke-width="1.1" />
<text x="372.1" y="57.62" font-size="6.8" text-anchor="end" textLength="3.45" lengthAdjust="spacingAndGlyphs" fill="#2a2a2a" stroke="#2a2a2a" stroke-width="0.2">1</text>
<line x1="374.5" y1="67.59" x2="377.7" y2="67.59" stroke="#222" stroke-width="1.1" />
<text x="372.1" y="69.99" font-size="6.8" text-anchor="end" textLength="8.75" lengthAdjust="spacingAndGlyphs" fill="#2a2a2a" stroke="#2a2a2a" stroke-width="0.2">0.5</text>
<line x1="374.5" y1="79.95" x2="377.7" y2="79.95" stroke="#222" stroke-width="1.1" />
<text x="372.1" y="82.35" font-size="6.8" text-anchor="end" textLength="3.45" lengthAdjust="spacingAndGlyphs" fill="#2a2a2a" stroke="#2a2a2a" stroke-width="0.2">0</text>
<line x1="374.5" y1="92.31" x2="377.7" y2="92.31" stroke="#222" stroke-width="1.1" />
<text x="372.1" y="94.71" font-size="6.8" text-anchor="end" textLength="12.2" lengthAdjust="spacingAndGlyphs" fill="#2a2a2a" stroke="#2a2a2a" stroke-width="0.2">-0.5</text>
<line x1="374.5" y1="104.68" x2="377.7" y2="104.68" stroke="#222" stroke-width="1.1" />
<text x="372.1" y="107.08" font-size="6.8" text-anchor="end" textLength="6.9" lengthAdjust="spacingAndGlyphs" fill="#2a2a2a" stroke="#2a2a2a" stroke-width="0.2">-1</text>
<line x1="374.5" y1="117.04" x2="377.7" y2="117.04" stroke="#222" stroke-width="1.1" />
<text x="372.1" y="119.44" font-size="6.8" text-anchor="end" textLength="12.2" lengthAdjust="spacingAndGlyphs" fill="#2a2a2a" stroke="#2a2a2a" stroke-width="0.2">-1.5</text>
<line x1="374.5" y1="129.4" x2="377.7" y2="129.4" stroke="#222" stroke-width="1.1" />
<text x="372.1" y="131.8" font-size="6.8" text-anchor="end" textLength="6.9" lengthAdjust="spacingAndGlyphs" fill="#2a2a2a" stroke="#2a2a2a" stroke-width="0.2">-2</text>
<line x1="377.7" y1="129.4" x2="377.7" y2="132" stroke="#222" stroke-width="1.1" />
<text x="377.7" y="141.8" font-size="7" text-anchor="middle" textLength="3.6" lengthAdjust="spacingAndGlyphs" fill="#2a2a2a" stroke="#2a2a2a" stroke-width="0.2">0</text>
<line x1="393.82" y1="129.4" x2="393.82" y2="132" stroke="#222" stroke-width="1.1" />
<text x="393.82" y="141.8" font-size="7" text-anchor="middle" textLength="10.8" lengthAdjust="spacingAndGlyphs" fill="#2a2a2a" stroke="#2a2a2a" stroke-width="0.2">100</text>
<line x1="409.94" y1="129.4" x2="409.94" y2="132" stroke="#222" stroke-width="1.1" />
<text x="409.94" y="141.8" font-size="7" text-anchor="middle" textLength="10.8" lengthAdjust="spacingAndGlyphs" fill="#2a2a2a" stroke="#2a2a2a" stroke-width="0.2">200</text>
<line x1="426.06" y1="129.4" x2="426.06" y2="132" stroke="#222" stroke-width="1.1" />
<text x="426.06" y="141.8" font-size="7" text-anchor="middle" textLength="10.8" lengthAdjust="spacingAndGlyphs" fill="#2a2a2a" stroke="#2a2a2a" stroke-width="0.2">300</text>
<line x1="442.18" y1="129.4" x2="442.18" y2="132" stroke="#222" stroke-width="1.1" />
<text x="442.18" y="141.8" font-size="7" text-anchor="middle" textLength="10.8" lengthAdjust="spacingAndGlyphs" fill="#2a2a2a" stroke="#2a2a2a" stroke-width="0.2">400</text>
<line x1="458.3" y1="129.4" x2="458.3" y2="132" stroke="#222" stroke-width="1.1" />
<text x="458.3" y="141.8" font-size="7" text-anchor="middle" textLength="10.8" lengthAdjust="spacingAndGlyphs" fill="#2a2a2a" stroke="#2a2a2a" stroke-width="0.2">500</text>
<line x1="474.42" y1="129.4" x2="474.42" y2="132" stroke="#222" stroke-width="1.1" />
<text x="474.42" y="141.8" font-size="7" text-anchor="middle" textLength="10.8" lengthAdjust="spacingAndGlyphs" fill="#2a2a2a" stroke="#2a2a2a" stroke-width="0.2">600</text>
<line x1="490.54" y1="129.4" x2="490.54" y2="132" stroke="#222" stroke-width="1.1" />
<text x="490.54" y="141.8" font-size="7" text-anchor="middle" textLength="10.8" lengthAdjust="spacingAndGlyphs" fill="#2a2a2a" stroke="#2a2a2a" stroke-width="0.2">700</text>
<line x1="506.66" y1="129.4" x2="506.66" y2="132" stroke="#222" stroke-width="1.1" />
<text x="506.66" y="141.8" font-size="7" text-anchor="middle" textLength="10.8" lengthAdjust="spacingAndGlyphs" fill="#2a2a2a" stroke="#2a2a2a" stroke-width="0.2">800</text>
<text x="445.1" y="153.7" font-size="9.3" text-anchor="middle" textLength="29" lengthAdjust="spacingAndGlyphs" stroke="#222" stroke-width="0.2">Position</text>
<text x="497.2" y="38" font-size="5.4" text-anchor="end" textLength="42.2" lengthAdjust="spacingAndGlyphs" fill="#333" stroke="#333" stroke-width="0.05">Hphob. / Roseman</text>
<line x1="500.5" y1="36.6" x2="508.7" y2="36.6" stroke="#a9bad2" stroke-width="0.9" />
<text x="15.3" y="80" font-size="9.5" text-anchor="middle" textLength="20.5" lengthAdjust="spacingAndGlyphs" transform="rotate(-90 15.3 80)" stroke="#222" stroke-width="0.2">Score</text>
<text x="184" y="80" font-size="9.5" text-anchor="middle" textLength="20.5" lengthAdjust="spacingAndGlyphs" transform="rotate(-90 184 80)" stroke="#222" stroke-width="0.2">Score</text>
<text x="355.1" y="80" font-size="9.5" text-anchor="middle" textLength="20.5" lengthAdjust="spacingAndGlyphs" transform="rotate(-90 355.1 80)" stroke="#222" stroke-width="0.2">Score</text>
<line x1="57.5" y1="37.5" x2="57.5" y2="44.3" stroke="#9d1a30" stroke-width="1.3" />
<path d="M54.9 43.5 L57.5 44.2 L60.1 43.5 L57.5 48.8 Z" fill="#9d1a30"/>
<line x1="409.6" y1="44.2" x2="409.6" y2="50.7" stroke="#9d1a30" stroke-width="1.3" />
<path d="M407 49.9 L409.6 50.6 L412.2 49.9 L409.6 55.2 Z" fill="#9d1a30"/>
<rect x="71.8" y="172.4" width="111.8" height="4" fill="#1c1c1c" />
<rect x="72.3" y="173.5" width="2.2" height="1.8" fill="#f4be2c" />
<rect x="75.5" y="173.5" width="81.3" height="1.8" fill="#f8d2c6" />
<rect x="157.8" y="173.5" width="2.2" height="1.8" fill="#84d65c" />
<rect x="161" y="173.5" width="22.1" height="1.8" fill="#70b2ea" />
<line x1="72.4" y1="176.1" x2="72.4" y2="180.3" stroke="#1e1e1e" stroke-width="1.1" />
<line x1="74.6" y1="176.1" x2="74.6" y2="180.3" stroke="#1e1e1e" stroke-width="1.1" />
<line x1="157.5" y1="176.1" x2="157.5" y2="180.3" stroke="#1e1e1e" stroke-width="1.1" />
<line x1="160.6" y1="176.1" x2="160.6" y2="180.3" stroke="#1e1e1e" stroke-width="1.1" />
<line x1="183.1" y1="176.1" x2="183.1" y2="180.3" stroke="#1e1e1e" stroke-width="1.1" />
<rect x="219.2" y="172.2" width="112.2" height="4.3" fill="#1c1c1c" />
<rect x="219.7" y="173.3" width="4.2" height="2.1" fill="#f4be2c" />
<rect x="224.9" y="173.3" width="48.1" height="2.1" fill="#f8d2c6" />
<rect x="274" y="173.3" width="2.9" height="2.1" fill="#84d65c" />
<rect x="277.9" y="173.3" width="53" height="2.1" fill="#70b2ea" />
<line x1="219.7" y1="176.2" x2="219.7" y2="180.6" stroke="#1e1e1e" stroke-width="1.1" />
<line x1="221.6" y1="176.2" x2="221.6" y2="180.6" stroke="#1e1e1e" stroke-width="1.1" />
<line x1="273.6" y1="176.2" x2="273.6" y2="180.6" stroke="#1e1e1e" stroke-width="1.1" />
<line x1="277.2" y1="176.2" x2="277.2" y2="180.6" stroke="#1e1e1e" stroke-width="1.1" />
<line x1="330.9" y1="176.2" x2="330.9" y2="180.6" stroke="#1e1e1e" stroke-width="1.1" />
<rect x="362" y="171.3" width="113" height="5.3" fill="#1c1c1c" />
<rect x="362.5" y="172.4" width="5.2" height="3.1" fill="#f4be2c" />
<rect x="368.7" y="172.4" width="76.9" height="3.1" fill="#f8d2c6" />
<rect x="446.6" y="172.4" width="2.2" height="3.1" fill="#84d65c" />
<rect x="449.8" y="172.4" width="24.7" height="3.1" fill="#70b2ea" />
<line x1="363.2" y1="176.3" x2="363.2" y2="180.4" stroke="#1e1e1e" stroke-width="1.1" />
<line x1="368.4" y1="176.3" x2="368.4" y2="180.4" stroke="#1e1e1e" stroke-width="1.1" />
<line x1="446.4" y1="176.3" x2="446.4" y2="180.4" stroke="#1e1e1e" stroke-width="1.1" />
<line x1="449.2" y1="176.3" x2="449.2" y2="180.4" stroke="#1e1e1e" stroke-width="1.1" />
<line x1="474.6" y1="176.3" x2="474.6" y2="180.4" stroke="#1e1e1e" stroke-width="1.1" />
<line x1="88.4" y1="163.5" x2="88.4" y2="168.5" stroke="#9d1a30" stroke-width="1.3" />
<path d="M86.1 167.7 L88.4 168.4 L90.7 167.7 L88.4 172.3 Z" fill="#9d1a30"/>
<line x1="389.2" y1="161.8" x2="389.2" y2="166.3" stroke="#9d1a30" stroke-width="1.3" />
<path d="M386.9 165.5 L389.2 166.2 L391.5 165.5 L389.2 170.1 Z" fill="#9d1a30"/>
<text x="88.8" y="181.2" font-size="5" textLength="13.3" lengthAdjust="spacingAndGlyphs" fill="#3a3a3a">D1D2</text>
<text x="133.2" y="181.3" font-size="5" textLength="12.7" lengthAdjust="spacingAndGlyphs" fill="#3a3a3a">D3D4</text>
<text x="242.7" y="182" font-size="5" textLength="13.2" lengthAdjust="spacingAndGlyphs" fill="#3a3a3a">D1D2</text>
<text x="72.6" y="185.8" font-size="4.9" text-anchor="end" textLength="14.4" lengthAdjust="spacingAndGlyphs" fill="#3a3a3a" transform="rotate(-90 72.6 185.8)">Signal</text>
<text x="78.4" y="185.8" font-size="4.9" text-anchor="end" textLength="17.9" lengthAdjust="spacingAndGlyphs" fill="#3a3a3a" transform="rotate(-90 78.4 185.8)">peptide</text>
<text x="116.4" y="186.2" font-size="4.9" text-anchor="end" textLength="9.3" lengthAdjust="spacingAndGlyphs" fill="#3a3a3a" transform="rotate(-90 116.4 186.2)">ECD</text>
<text x="160.6" y="185.8" font-size="4.9" text-anchor="end" textLength="10" lengthAdjust="spacingAndGlyphs" fill="#3a3a3a" transform="rotate(-90 160.6 185.8)">TMD</text>
<text x="175.3" y="185.8" font-size="4.9" text-anchor="end" textLength="7.7" lengthAdjust="spacingAndGlyphs" fill="#3a3a3a" transform="rotate(-90 175.3 185.8)">ICD</text>
<text x="218.6" y="185.4" font-size="4.9" text-anchor="end" textLength="13.8" lengthAdjust="spacingAndGlyphs" fill="#3a3a3a" transform="rotate(-90 218.6 185.4)">Signal</text>
<text x="225.4" y="185.4" font-size="4.9" text-anchor="end" textLength="17.6" lengthAdjust="spacingAndGlyphs" fill="#3a3a3a" transform="rotate(-90 225.4 185.4)">peptide</text>
<text x="250.2" y="185.4" font-size="4.9" text-anchor="end" textLength="9.7" lengthAdjust="spacingAndGlyphs" fill="#3a3a3a" transform="rotate(-90 250.2 185.4)">ECD</text>
<text x="277" y="184.7" font-size="4.9" text-anchor="end" textLength="11" lengthAdjust="spacingAndGlyphs" fill="#3a3a3a" transform="rotate(-90 277 184.7)">TMD</text>
<text x="305.8" y="184.8" font-size="4.9" text-anchor="end" textLength="8" lengthAdjust="spacingAndGlyphs" fill="#3a3a3a" transform="rotate(-90 305.8 184.8)">ICD</text>
<text x="364.8" y="184.4" font-size="4.9" text-anchor="end" textLength="13.9" lengthAdjust="spacingAndGlyphs" fill="#3a3a3a" transform="rotate(-90 364.8 184.4)">Signal</text>
<text x="371.2" y="184.4" font-size="4.9" text-anchor="end" textLength="17.9" lengthAdjust="spacingAndGlyphs" fill="#3a3a3a" transform="rotate(-90 371.2 184.4)">peptide</text>
<text x="409.7" y="184.4" font-size="4.9" text-anchor="end" textLength="9.3" lengthAdjust="spacingAndGlyphs" fill="#3a3a3a" transform="rotate(-90 409.7 184.4)">ECD</text>
<text x="450.2" y="184.2" font-size="4.9" text-anchor="end" textLength="9.5" lengthAdjust="spacingAndGlyphs" fill="#3a3a3a" transform="rotate(-90 450.2 184.2)">TMD</text>
<text x="463.6" y="185.6" font-size="4.9" text-anchor="end" textLength="7.2" lengthAdjust="spacingAndGlyphs" fill="#3a3a3a" transform="rotate(-90 463.6 185.6)">ICD</text>
<line x1="85.4" y1="182.3" x2="104.2" y2="237.5" stroke="#1e1e1e" stroke-width="1.1" stroke-dasharray="3.2 2.1"/>
<line x1="108.5" y1="182.1" x2="381.5" y2="238" stroke="#1e1e1e" stroke-width="1.1" stroke-dasharray="3.4 2.3"/>
<text x="94.6" y="247.4" font-size="8.2" text-anchor="end" textLength="33.6" lengthAdjust="spacingAndGlyphs" fill="#1a1a1a" stroke="#1a1a1a" stroke-width="0.3">TpoR WT :</text>
<line x1="61" y1="248.5" x2="94.6" y2="248.5" stroke="#333" stroke-width="0.7" />
<text x="94.6" y="259.6" font-size="8.2" text-anchor="end" textLength="32.1" lengthAdjust="spacingAndGlyphs" fill="#1a1a1a" stroke="#1a1a1a" stroke-width="0.3">TpoR 8A :</text>
<line x1="62.5" y1="260.7" x2="94.6" y2="260.7" stroke="#333" stroke-width="0.7" />
<text x="94.6" y="275.6" font-size="8.2" text-anchor="end" textLength="32.6" lengthAdjust="spacingAndGlyphs" fill="#1a1a1a" stroke="#1a1a1a" stroke-width="0.3">EpoR WT:</text>
<line x1="62" y1="276.7" x2="94.6" y2="276.7" stroke="#333" stroke-width="0.7" />
<text x="94.6" y="287.2" font-size="8.2" text-anchor="end" textLength="64" lengthAdjust="spacingAndGlyphs" fill="#1a1a1a" stroke="#1a1a1a" stroke-width="0.3">EpoR LFFPLHLWV :</text>
<line x1="30.6" y1="288.3" x2="94.6" y2="288.3" stroke="#333" stroke-width="0.7" />
<text x="94.6" y="299.3" font-size="8.2" text-anchor="end" textLength="43.7" lengthAdjust="spacingAndGlyphs" fill="#1a1a1a" stroke="#1a1a1a" stroke-width="0.3">EpoR LFFPL :</text>
<line x1="50.9" y1="300.4" x2="94.6" y2="300.4" stroke="#333" stroke-width="0.7" />
<text x="94.6" y="316.3" font-size="8.2" text-anchor="end" textLength="39.4" lengthAdjust="spacingAndGlyphs" fill="#1a1a1a" stroke="#1a1a1a" stroke-width="0.3">GCSFR WT :</text>
<line x1="55.2" y1="317.4" x2="94.6" y2="317.4" stroke="#333" stroke-width="0.7" />
<text x="92.98" y="247" font-size="9" font-family='"Liberation Serif", serif' fill="#3a3a3a" stroke="#3a3a3a" stroke-width="0.16" transform="scale(1.140 1)">P</text>
<text x="119.27" y="247" font-size="9" font-family='"Liberation Serif", serif' fill="#3a3a3a" stroke="#3a3a3a" stroke-width="0.16" transform="scale(0.937 1)">H</text>
<text x="100.23" y="247" font-size="9" font-family='"Liberation Serif", serif' fill="#3a3a3a" stroke="#3a3a3a" stroke-width="0.16" transform="scale(1.176 1)">F</text>
<text x="134.05" y="247" font-size="9" font-family='"Liberation Serif", serif' fill="#3a3a3a" stroke="#3a3a3a" stroke-width="0.16" transform="scale(0.923 1)">G</text>
<text x="129.68" y="247" font-size="9" font-family='"Liberation Serif", serif' fill="#3a3a3a" stroke="#3a3a3a" stroke-width="0.16" transform="scale(1.003 1)">T</text>
<text x="138.91" y="247" font-size="9" font-family='"Liberation Serif", serif' fill="#3a3a3a" stroke="#3a3a3a" stroke-width="0.16" transform="scale(0.977 1)">R</text>
<text x="156.35" y="247" font-size="9" font-family='"Liberation Serif", serif' fill="#3a3a3a" stroke="#3a3a3a" stroke-width="0.16" transform="scale(0.908 1)">Y</text>
<text x="166.33" y="247" font-size="9" font-family='"Liberation Serif", serif' fill="#3a3a3a" stroke="#3a3a3a" stroke-width="0.16" transform="scale(0.889 1)">V</text>
<text x="158.17" y="247" font-size="9" font-family='"Liberation Serif", serif' fill="#3a3a3a" stroke="#3a3a3a" stroke-width="0.16" transform="scale(0.973 1)">C</text>
<text x="170.39" y="247" font-size="9" font-family='"Liberation Serif", serif' fill="#3a3a3a" stroke="#3a3a3a" stroke-width="0.16" transform="scale(0.937 1)">Q</text>
<text x="141.04" y="247" font-size="9" font-family='"Liberation Serif", serif' fill="#3a3a3a" stroke="#3a3a3a" stroke-width="0.16" transform="scale(1.176 1)">F</text>
<text x="150.87" y="247" font-size="9" font-family='"Liberation Serif", serif' fill="#3a3a3a" stroke="#3a3a3a" stroke-width="0.16" transform="scale(1.140 1)">P</text>
<text x="186.64" y="247" font-size="9" font-family='"Liberation Serif", serif' fill="#3a3a3a" stroke="#3a3a3a" stroke-width="0.16" transform="scale(0.952 1)">D</text>
<text x="196" y="247" font-size="9" font-family='"Liberation Serif", serif' fill="#3a3a3a" stroke="#3a3a3a" stroke-width="0.16" transform="scale(0.937 1)">Q</text>
<text x="174.95" y="247" font-size="9" font-family='"Liberation Serif", serif' fill="#3a3a3a" stroke="#3a3a3a" stroke-width="0.16" transform="scale(1.086 1)">E</text>
<text x="180.47" y="247" font-size="9" font-family='"Liberation Serif", serif' fill="#3a3a3a" stroke="#3a3a3a" stroke-width="0.16" transform="scale(1.086 1)">E</text>
<text x="227.05" y="247" font-size="9" font-family='"Liberation Serif", serif' fill="#3a3a3a" stroke="#3a3a3a" stroke-width="0.16" transform="scale(0.889 1)">V</text>
<text x="212.59" y="247" font-size="9" font-family='"Liberation Serif", serif' fill="#3a3a3a" stroke="#3a3a3a" stroke-width="0.16" transform="scale(0.977 1)">R</text>
<text x="200.85" y="247" font-size="9" font-family='"Liberation Serif", serif' fill="#111" font-weight="bold" stroke="#111" stroke-width="0.35" font-style="italic" transform="scale(1.066 1)">L</text>
<text x="234.55" y="247" font-size="9" font-family='"Liberation Serif", serif' fill="#111" font-weight="bold" stroke="#111" stroke-width="0.35" font-style="italic" transform="scale(0.938 1)">F</text>
<text x="240.95" y="247" font-size="9" font-family='"Liberation Serif", serif' fill="#111" font-weight="bold" stroke="#111" stroke-width="0.35" font-style="italic" transform="scale(0.938 1)">F</text>
<text x="243.5" y="247" font-size="9" font-family='"Liberation Serif", serif' fill="#111" font-weight="bold" stroke="#111" stroke-width="0.35" font-style="italic" transform="scale(0.953 1)">P</text>
<text x="223.36" y="247" font-size="9" font-family='"Liberation Serif", serif' fill="#111" font-weight="bold" stroke="#111" stroke-width="0.35" font-style="italic" transform="scale(1.066 1)">L</text>
<text x="301.57" y="247" font-size="9" font-family='"Liberation Serif", serif' fill="#111" font-weight="bold" stroke="#111" stroke-width="0.35" font-style="italic" transform="scale(0.809 1)">H</text>
<text x="234.62" y="247" font-size="9" font-family='"Liberation Serif", serif' fill="#111" font-weight="bold" stroke="#111" stroke-width="0.35" font-style="italic" transform="scale(1.066 1)">L</text>
<text x="315.29" y="247" font-size="9" font-family='"Liberation Serif", serif' fill="#111" font-weight="bold" stroke="#111" stroke-width="0.35" font-style="italic" transform="scale(0.809 1)">W</text>
<text x="269.6" y="247" font-size="9" font-family='"Liberation Serif", serif' fill="#111" font-weight="bold" stroke="#111" stroke-width="0.35" font-style="italic" transform="scale(0.969 1)">V</text>
<text x="293.96" y="247" font-size="9" font-family='"Liberation Serif", serif' fill="#3a3a3a" stroke="#3a3a3a" stroke-width="0.16" transform="scale(0.911 1)">K</text>
<text x="294.96" y="247" font-size="9" font-family='"Liberation Serif", serif' fill="#3a3a3a" stroke="#3a3a3a" stroke-width="0.16" transform="scale(0.928 1)">N</text>
<text x="314.77" y="247" font-size="9" font-family='"Liberation Serif", serif' fill="#3a3a3a" stroke="#3a3a3a" stroke-width="0.16" transform="scale(0.889 1)">V</text>
<text x="243.06" y="247" font-size="9" font-family='"Liberation Serif", serif' fill="#3a3a3a" stroke="#3a3a3a" stroke-width="0.16" transform="scale(1.176 1)">F</text>
<text x="263.72" y="247" font-size="9" font-family='"Liberation Serif", serif' fill="#3a3a3a" stroke="#3a3a3a" stroke-width="0.16" transform="scale(1.107 1)">L</text>
<text x="320.82" y="247" font-size="9" font-family='"Liberation Serif", serif' fill="#dc5a68" stroke="#dc5a68" stroke-width="0.16" transform="scale(0.928 1)">N</text>
<text x="324.07" y="247" font-size="9" font-family='"Liberation Serif", serif' fill="#3a3a3a" stroke="#3a3a3a" stroke-width="0.16" transform="scale(0.937 1)">Q</text>
<text x="309.18" y="247" font-size="9" font-family='"Liberation Serif", serif' fill="#3a3a3a" stroke="#3a3a3a" stroke-width="0.16" transform="scale(1.003 1)">T</text>
<text x="323.1" y="247" font-size="9" font-family='"Liberation Serif", serif' fill="#3a3a3a" stroke="#3a3a3a" stroke-width="0.16" transform="scale(0.977 1)">R</text>
<text x="321.14" y="247" font-size="9" font-family='"Liberation Serif", serif' fill="#3a3a3a" stroke="#3a3a3a" stroke-width="0.16" transform="scale(1.003 1)">T</text>
<text x="349.69" y="247" font-size="9" font-family='"Liberation Serif", serif' fill="#3a3a3a" stroke="#3a3a3a" stroke-width="0.16" transform="scale(0.937 1)">Q</text>
<text x="341.52" y="247" font-size="9" font-family='"Liberation Serif", serif' fill="#3a3a3a" stroke="#3a3a3a" stroke-width="0.16" transform="scale(0.977 1)">R</text>
<text x="382.24" y="247" font-size="9" font-family='"Liberation Serif", serif' fill="#3a3a3a" stroke="#3a3a3a" stroke-width="0.16" transform="scale(0.889 1)">V</text>
<text x="312.5" y="247" font-size="9" font-family='"Liberation Serif", serif' fill="#3a3a3a" stroke="#3a3a3a" stroke-width="0.16" transform="scale(1.107 1)">L</text>
<text x="299.17" y="247" font-size="9" font-family='"Liberation Serif", serif' fill="#3a3a3a" stroke="#3a3a3a" stroke-width="0.16" transform="scale(1.176 1)">F</text>
<text x="402.48" y="247" font-size="9" font-family='"Liberation Serif", serif' fill="#3a3a3a" stroke="#3a3a3a" stroke-width="0.16" transform="scale(0.889 1)">V</text>
<text x="381.93" y="247" font-size="9" font-family='"Liberation Serif", serif' fill="#3a3a3a" stroke="#3a3a3a" stroke-width="0.16" transform="scale(0.952 1)">D</text>
<text x="309.1" y="247" font-size="9" font-family='"Liberation Serif", serif' fill="#3a3a3a" stroke="#3a3a3a" stroke-width="0.16" transform="scale(1.196 1)">S</text>
<text x="422.72" y="247" font-size="9" font-family='"Liberation Serif", serif' fill="#3a3a3a" stroke="#3a3a3a" stroke-width="0.16" transform="scale(0.889 1)">V</text>
<text x="212.59" y="258.2" font-size="9" font-family='"Liberation Serif", serif' fill="#3a3a3a" stroke="#3a3a3a" stroke-width="0.16" transform="scale(0.977 1)">R</text>
<text x="193.25" y="258.2" font-size="9" font-family='"Liberation Serif", serif' fill="#3a3a3a" stroke="#3a3a3a" stroke-width="0.16" transform="scale(1.107 1)">L</text>
<text x="236.37" y="258.2" font-size="9" font-family='"Liberation Serif", serif' fill="#111" font-weight="bold" stroke="#111" stroke-width="0.35" transform="scale(0.930 1)">A</text>
<text x="242.82" y="258.2" font-size="9" font-family='"Liberation Serif", serif' fill="#111" font-weight="bold" stroke="#111" stroke-width="0.35" transform="scale(0.930 1)">A</text>
<text x="249.28" y="258.2" font-size="9" font-family='"Liberation Serif", serif' fill="#111" font-weight="bold" stroke="#111" stroke-width="0.35" transform="scale(0.930 1)">A</text>
<text x="255.73" y="258.2" font-size="9" font-family='"Liberation Serif", serif' fill="#111" font-weight="bold" stroke="#111" stroke-width="0.35" transform="scale(0.930 1)">A</text>
<text x="262.18" y="258.2" font-size="9" font-family='"Liberation Serif", serif' fill="#111" font-weight="bold" stroke="#111" stroke-width="0.35" transform="scale(0.930 1)">A</text>
<text x="268.64" y="258.2" font-size="9" font-family='"Liberation Serif", serif' fill="#111" font-weight="bold" stroke="#111" stroke-width="0.35" transform="scale(0.930 1)">A</text>
<text x="275.09" y="258.2" font-size="9" font-family='"Liberation Serif", serif' fill="#111" font-weight="bold" stroke="#111" stroke-width="0.35" transform="scale(0.930 1)">A</text>
<text x="281.54" y="258.2" font-size="9" font-family='"Liberation Serif", serif' fill="#111" font-weight="bold" stroke="#111" stroke-width="0.35" transform="scale(0.930 1)">A</text>
<text x="293.96" y="258.2" font-size="9" font-family='"Liberation Serif", serif' fill="#3a3a3a" stroke="#3a3a3a" stroke-width="0.16" transform="scale(0.911 1)">K</text>
<text x="294.96" y="258.2" font-size="9" font-family='"Liberation Serif", serif' fill="#3a3a3a" stroke="#3a3a3a" stroke-width="0.16" transform="scale(0.928 1)">N</text>
<text x="120.03" y="276.5" font-size="9" font-family='"Liberation Serif", serif' fill="#3a3a3a" stroke="#3a3a3a" stroke-width="0.16" transform="scale(0.882 1)">A</text>
<text x="114.35" y="276.5" font-size="9" font-family='"Liberation Serif", serif' fill="#3a3a3a" stroke="#3a3a3a" stroke-width="0.16" transform="scale(0.977 1)">R</text>
<text x="127.55" y="276.5" font-size="9" font-family='"Liberation Serif", serif' fill="#3a3a3a" stroke="#3a3a3a" stroke-width="0.16" transform="scale(0.923 1)">G</text>
<text x="140.42" y="276.5" font-size="9" font-family='"Liberation Serif", serif' fill="#3a3a3a" stroke="#3a3a3a" stroke-width="0.16" transform="scale(0.882 1)">A</text>
<text x="146.09" y="276.5" font-size="9" font-family='"Liberation Serif", serif' fill="#3a3a3a" stroke="#3a3a3a" stroke-width="0.16" transform="scale(0.889 1)">V</text>
<text x="138.91" y="276.5" font-size="9" font-family='"Liberation Serif", serif' fill="#3a3a3a" stroke="#3a3a3a" stroke-width="0.16" transform="scale(0.977 1)">R</text>
<text x="120.64" y="276.5" font-size="9" font-family='"Liberation Serif", serif' fill="#3a3a3a" stroke="#3a3a3a" stroke-width="0.16" transform="scale(1.176 1)">F</text>
<text x="205.1" y="276.5" font-size="9" font-family='"Liberation Serif", serif' fill="#3a3a3a" stroke="#3a3a3a" stroke-width="0.16" transform="scale(0.720 1)">W</text>
<text x="158.17" y="276.5" font-size="9" font-family='"Liberation Serif", serif' fill="#3a3a3a" stroke="#3a3a3a" stroke-width="0.16" transform="scale(0.973 1)">C</text>
<text x="133.56" y="276.5" font-size="9" font-family='"Liberation Serif", serif' fill="#3a3a3a" stroke="#3a3a3a" stroke-width="0.16" transform="scale(1.196 1)">S</text>
<text x="149.89" y="276.5" font-size="9" font-family='"Liberation Serif", serif' fill="#3a3a3a" stroke="#3a3a3a" stroke-width="0.16" transform="scale(1.107 1)">L</text>
<text x="150.87" y="276.5" font-size="9" font-family='"Liberation Serif", serif' fill="#3a3a3a" stroke="#3a3a3a" stroke-width="0.16" transform="scale(1.140 1)">P</text>
<text x="177.54" y="276.5" font-size="9" font-family='"Liberation Serif", serif' fill="#3a3a3a" stroke="#3a3a3a" stroke-width="0.16" transform="scale(1.003 1)">T</text>
<text x="208.41" y="276.5" font-size="9" font-family='"Liberation Serif", serif' fill="#3a3a3a" stroke="#3a3a3a" stroke-width="0.16" transform="scale(0.882 1)">A</text>
<text x="199.24" y="276.5" font-size="9" font-family='"Liberation Serif", serif' fill="#3a3a3a" stroke="#3a3a3a" stroke-width="0.16" transform="scale(0.952 1)">D</text>
<text x="195.49" y="276.5" font-size="9" font-family='"Liberation Serif", serif' fill="#3a3a3a" stroke="#3a3a3a" stroke-width="0.16" transform="scale(1.003 1)">T</text>
<rect x="202.3" y="272.8" width="5" height="1" fill="#3a3a3a" />
<text x="173.69" y="276.5" font-size="9" font-family='"Liberation Serif", serif' fill="#3a3a3a" stroke="#3a3a3a" stroke-width="0.16" transform="scale(1.196 1)">S</text>
<text x="178.7" y="276.5" font-size="9" font-family='"Liberation Serif", serif' fill="#3a3a3a" stroke="#3a3a3a" stroke-width="0.16" transform="scale(1.196 1)">S</text>
<text x="186.95" y="276.5" font-size="9" font-family='"Liberation Serif", serif' fill="#3a3a3a" stroke="#3a3a3a" stroke-width="0.16" transform="scale(1.176 1)">F</text>
<text x="254.04" y="276.5" font-size="9" font-family='"Liberation Serif", serif' fill="#3a3a3a" stroke="#3a3a3a" stroke-width="0.16" transform="scale(0.889 1)">V</text>
<text x="203.5" y="276.5" font-size="9" font-family='"Liberation Serif", serif' fill="#3a3a3a" stroke="#3a3a3a" stroke-width="0.16" transform="scale(1.140 1)">P</text>
<text x="214.93" y="276.5" font-size="9" font-family='"Liberation Serif", serif' fill="#3a3a3a" stroke="#3a3a3a" stroke-width="0.16" transform="scale(1.107 1)">L</text>
<text x="224.69" y="276.5" font-size="9" font-family='"Liberation Serif", serif' fill="#3a3a3a" stroke="#3a3a3a" stroke-width="0.16" transform="scale(1.086 1)">E</text>
<text x="225.77" y="276.5" font-size="9" font-family='"Liberation Serif", serif' fill="#3a3a3a" stroke="#3a3a3a" stroke-width="0.16" transform="scale(1.107 1)">L</text>
<text x="261.71" y="276.5" font-size="9" font-family='"Liberation Serif", serif' fill="#3a3a3a" stroke="#3a3a3a" stroke-width="0.16" transform="scale(0.977 1)">R</text>
<text x="294.53" y="276.5" font-size="9" font-family='"Liberation Serif", serif' fill="#3a3a3a" stroke="#3a3a3a" stroke-width="0.16" transform="scale(0.889 1)">V</text>
<text x="267.29" y="276.5" font-size="9" font-family='"Liberation Serif", serif' fill="#3a3a3a" stroke="#3a3a3a" stroke-width="0.16" transform="scale(1.003 1)">T</text>
<text x="310.4" y="276.5" font-size="9" font-family='"Liberation Serif", serif' fill="#3a3a3a" stroke="#3a3a3a" stroke-width="0.16" transform="scale(0.882 1)">A</text>
<text x="317.2" y="276.5" font-size="9" font-family='"Liberation Serif", serif' fill="#3a3a3a" stroke="#3a3a3a" stroke-width="0.16" transform="scale(0.882 1)">A</text>
<text x="238.89" y="276.5" font-size="9" font-family='"Liberation Serif", serif' fill="#3a3a3a" stroke="#3a3a3a" stroke-width="0.16" transform="scale(1.196 1)">S</text>
<rect x="292.3" y="272.8" width="5" height="1" fill="#3a3a3a" />
<text x="322.52" y="276.5" font-size="9" font-family='"Liberation Serif", serif' fill="#3a3a3a" stroke="#3a3a3a" stroke-width="0.16" transform="scale(0.923 1)">G</text>
<text x="344.39" y="276.5" font-size="9" font-family='"Liberation Serif", serif' fill="#3a3a3a" stroke="#3a3a3a" stroke-width="0.16" transform="scale(0.882 1)">A</text>
<text x="271.92" y="276.5" font-size="9" font-family='"Liberation Serif", serif' fill="#3a3a3a" stroke="#3a3a3a" stroke-width="0.16" transform="scale(1.140 1)">P</text>
<text x="323.1" y="276.5" font-size="9" font-family='"Liberation Serif", serif' fill="#3a3a3a" stroke="#3a3a3a" stroke-width="0.16" transform="scale(0.977 1)">R</text>
<text x="354.67" y="276.5" font-size="9" font-family='"Liberation Serif", serif' fill="#3a3a3a" stroke="#3a3a3a" stroke-width="0.16" transform="scale(0.908 1)">Y</text>
<text x="349.8" y="276.5" font-size="9" font-family='"Liberation Serif", serif' fill="#3a3a3a" stroke="#3a3a3a" stroke-width="0.16" transform="scale(0.937 1)">H</text>
<text x="341.52" y="276.5" font-size="9" font-family='"Liberation Serif", serif' fill="#3a3a3a" stroke="#3a3a3a" stroke-width="0.16" transform="scale(0.977 1)">R</text>
<text x="382.24" y="276.5" font-size="9" font-family='"Liberation Serif", serif' fill="#3a3a3a" stroke="#3a3a3a" stroke-width="0.16" transform="scale(0.889 1)">V</text>
<text x="266.8" y="276.5" font-size="9" font-family='"Liberation Serif", serif' fill="#3a3a3a" stroke="#3a3a3a" stroke-width="0.16" transform="scale(1.300 1)">I</text>
<text x="375.41" y="276.5" font-size="9" font-family='"Liberation Serif", serif' fill="#3a3a3a" stroke="#3a3a3a" stroke-width="0.16" transform="scale(0.937 1)">H</text>
<text x="276.04" y="276.5" font-size="9" font-family='"Liberation Serif", serif' fill="#3a3a3a" stroke="#3a3a3a" stroke-width="0.16" transform="scale(1.300 1)">I</text>
<text x="391.93" y="276.5" font-size="9" font-family='"Liberation Serif", serif' fill="#3a3a3a" stroke="#3a3a3a" stroke-width="0.16" transform="scale(0.928 1)">N</text>
<text x="340.75" y="276.5" font-size="9" font-family='"Liberation Serif", serif' fill="#3a3a3a" stroke="#3a3a3a" stroke-width="0.16" transform="scale(1.086 1)">E</text>
<text x="422.72" y="276.5" font-size="9" font-family='"Liberation Serif", serif' fill="#3a3a3a" stroke="#3a3a3a" stroke-width="0.16" transform="scale(0.889 1)">V</text>
<text x="173.69" y="287.5" font-size="9" font-family='"Liberation Serif", serif' fill="#3a3a3a" stroke="#3a3a3a" stroke-width="0.16" transform="scale(1.196 1)">S</text>
<text x="212.78" y="287.5" font-size="9" font-family='"Liberation Serif", serif' fill="#111" font-weight="bold" stroke="#111" stroke-width="0.35" transform="scale(1.005 1)">L</text>
<text x="196.41" y="287.5" font-size="9" font-family='"Liberation Serif", serif' fill="#111" font-weight="bold" stroke="#111" stroke-width="0.35" transform="scale(1.119 1)">F</text>
<text x="201.77" y="287.5" font-size="9" font-family='"Liberation Serif", serif' fill="#111" font-weight="bold" stroke="#111" stroke-width="0.35" transform="scale(1.119 1)">F</text>
<text x="222.75" y="287.5" font-size="9" font-family='"Liberation Serif", serif' fill="#111" font-weight="bold" stroke="#111" stroke-width="0.35" transform="scale(1.041 1)">P</text>
<text x="236.65" y="287.5" font-size="9" font-family='"Liberation Serif", serif' fill="#111" font-weight="bold" stroke="#111" stroke-width="0.35" transform="scale(1.005 1)">L</text>
<text x="276.65" y="287.5" font-size="9" font-family='"Liberation Serif", serif' fill="#111" font-weight="bold" stroke="#111" stroke-width="0.35" transform="scale(0.881 1)">H</text>
<text x="248.59" y="287.5" font-size="9" font-family='"Liberation Serif", serif' fill="#111" font-weight="bold" stroke="#111" stroke-width="0.35" transform="scale(1.005 1)">L</text>
<text x="348.6" y="287.5" font-size="9" font-family='"Liberation Serif", serif' fill="#111" font-weight="bold" stroke="#111" stroke-width="0.35" transform="scale(0.733 1)">W</text>
<text x="279.38" y="287.5" font-size="9" font-family='"Liberation Serif", serif' fill="#111" font-weight="bold" stroke="#111" stroke-width="0.35" transform="scale(0.937 1)">V</text>
<text x="267.29" y="287.5" font-size="9" font-family='"Liberation Serif", serif' fill="#3a3a3a" stroke="#3a3a3a" stroke-width="0.16" transform="scale(1.003 1)">T</text>
<text x="310.4" y="287.5" font-size="9" font-family='"Liberation Serif", serif' fill="#3a3a3a" stroke="#3a3a3a" stroke-width="0.16" transform="scale(0.882 1)">A</text>
<text x="317.2" y="287.5" font-size="9" font-family='"Liberation Serif", serif' fill="#3a3a3a" stroke="#3a3a3a" stroke-width="0.16" transform="scale(0.882 1)">A</text>
<text x="173.69" y="298.4" font-size="9" font-family='"Liberation Serif", serif' fill="#3a3a3a" stroke="#3a3a3a" stroke-width="0.16" transform="scale(1.196 1)">S</text>
<text x="212.78" y="298.4" font-size="9" font-family='"Liberation Serif", serif' fill="#111" font-weight="bold" stroke="#111" stroke-width="0.35" transform="scale(1.005 1)">L</text>
<text x="196.41" y="298.4" font-size="9" font-family='"Liberation Serif", serif' fill="#111" font-weight="bold" stroke="#111" stroke-width="0.35" transform="scale(1.119 1)">F</text>
<text x="201.77" y="298.4" font-size="9" font-family='"Liberation Serif", serif' fill="#111" font-weight="bold" stroke="#111" stroke-width="0.35" transform="scale(1.119 1)">F</text>
<text x="222.75" y="298.4" font-size="9" font-family='"Liberation Serif", serif' fill="#111" font-weight="bold" stroke="#111" stroke-width="0.35" transform="scale(1.041 1)">P</text>
<text x="236.65" y="298.4" font-size="9" font-family='"Liberation Serif", serif' fill="#111" font-weight="bold" stroke="#111" stroke-width="0.35" transform="scale(1.005 1)">L</text>
<text x="224.69" y="298.4" font-size="9" font-family='"Liberation Serif", serif' fill="#3a3a3a" stroke="#3a3a3a" stroke-width="0.16" transform="scale(1.086 1)">E</text>
<text x="225.77" y="298.4" font-size="9" font-family='"Liberation Serif", serif' fill="#3a3a3a" stroke="#3a3a3a" stroke-width="0.16" transform="scale(1.107 1)">L</text>
<text x="261.71" y="298.4" font-size="9" font-family='"Liberation Serif", serif' fill="#3a3a3a" stroke="#3a3a3a" stroke-width="0.16" transform="scale(0.977 1)">R</text>
<text x="294.53" y="298.4" font-size="9" font-family='"Liberation Serif", serif' fill="#3a3a3a" stroke="#3a3a3a" stroke-width="0.16" transform="scale(0.889 1)">V</text>
<text x="267.29" y="298.4" font-size="9" font-family='"Liberation Serif", serif' fill="#3a3a3a" stroke="#3a3a3a" stroke-width="0.16" transform="scale(1.003 1)">T</text>
<text x="310.4" y="298.4" font-size="9" font-family='"Liberation Serif", serif' fill="#3a3a3a" stroke="#3a3a3a" stroke-width="0.16" transform="scale(0.882 1)">A</text>
<text x="317.2" y="298.4" font-size="9" font-family='"Liberation Serif", serif' fill="#3a3a3a" stroke="#3a3a3a" stroke-width="0.16" transform="scale(0.882 1)">A</text>
<text x="92.98" y="316.3" font-size="9" font-family='"Liberation Serif", serif' fill="#3a3a3a" stroke="#3a3a3a" stroke-width="0.16" transform="scale(1.140 1)">P</text>
<text x="122.7" y="316.3" font-size="9" font-family='"Liberation Serif", serif' fill="#3a3a3a" stroke="#3a3a3a" stroke-width="0.16" transform="scale(0.911 1)">K</text>
<text x="123.64" y="316.3" font-size="9" font-family='"Liberation Serif", serif' fill="#3a3a3a" stroke="#3a3a3a" stroke-width="0.16" transform="scale(0.952 1)">D</text>
<text x="134.05" y="316.3" font-size="9" font-family='"Liberation Serif", serif' fill="#3a3a3a" stroke="#3a3a3a" stroke-width="0.16" transform="scale(0.923 1)">G</text>
<text x="138.37" y="316.3" font-size="9" font-family='"Liberation Serif", serif' fill="#3a3a3a" stroke="#3a3a3a" stroke-width="0.16" transform="scale(0.937 1)">Q</text>
<text x="113.5" y="316.3" font-size="9" font-family='"Liberation Serif", serif' fill="#3a3a3a" stroke="#3a3a3a" stroke-width="0.16" transform="scale(1.196 1)">S</text>
<text x="151.29" y="316.3" font-size="9" font-family='"Liberation Serif", serif' fill="#3a3a3a" stroke="#3a3a3a" stroke-width="0.16" transform="scale(0.937 1)">H</text>
<text x="152" y="316.3" font-size="9" font-family='"Liberation Serif", serif' fill="#3a3a3a" stroke="#3a3a3a" stroke-width="0.16" transform="scale(0.973 1)">C</text>
<text x="158.17" y="316.3" font-size="9" font-family='"Liberation Serif", serif' fill="#3a3a3a" stroke="#3a3a3a" stroke-width="0.16" transform="scale(0.973 1)">C</text>
<rect x="160.3" y="312.6" width="5" height="1" fill="#3a3a3a" />
<text x="128.34" y="316.3" font-size="9" font-family='"Liberation Serif", serif' fill="#3a3a3a" stroke="#3a3a3a" stroke-width="0.16" transform="scale(1.300 1)">I</text>
<text x="150.87" y="316.3" font-size="9" font-family='"Liberation Serif", serif' fill="#3a3a3a" stroke="#3a3a3a" stroke-width="0.16" transform="scale(1.140 1)">P</text>
<text x="181.89" y="316.3" font-size="9" font-family='"Liberation Serif", serif' fill="#3a3a3a" stroke="#3a3a3a" stroke-width="0.16" transform="scale(0.977 1)">R</text>
<rect x="184.3" y="312.6" width="5" height="1" fill="#3a3a3a" />
<text x="208.33" y="316.3" font-size="9" font-family='"Liberation Serif", serif' fill="#3a3a3a" stroke="#3a3a3a" stroke-width="0.16" transform="scale(0.911 1)">K</text>
<text x="208.92" y="316.3" font-size="9" font-family='"Liberation Serif", serif' fill="#3a3a3a" stroke="#3a3a3a" stroke-width="0.16" transform="scale(0.937 1)">H</text>
<text x="182.41" y="316.3" font-size="9" font-family='"Liberation Serif", serif' fill="#3a3a3a" stroke="#3a3a3a" stroke-width="0.16" transform="scale(1.107 1)">L</text>
<text x="187.83" y="316.3" font-size="9" font-family='"Liberation Serif", serif' fill="#3a3a3a" stroke="#3a3a3a" stroke-width="0.16" transform="scale(1.107 1)">L</text>
<text x="193.25" y="316.3" font-size="9" font-family='"Liberation Serif", serif' fill="#3a3a3a" stroke="#3a3a3a" stroke-width="0.16" transform="scale(1.107 1)">L</text>
<text x="242.29" y="316.3" font-size="9" font-family='"Liberation Serif", serif' fill="#3a3a3a" stroke="#3a3a3a" stroke-width="0.16" transform="scale(0.908 1)">Y</text>
<text x="240.83" y="316.3" font-size="9" font-family='"Liberation Serif", serif' fill="#3a3a3a" stroke="#3a3a3a" stroke-width="0.16" transform="scale(0.937 1)">Q</text>
<text x="249.71" y="316.3" font-size="9" font-family='"Liberation Serif", serif' fill="#3a3a3a" stroke="#3a3a3a" stroke-width="0.16" transform="scale(0.928 1)">N</text>
<text x="296.18" y="316.3" font-size="9" font-family='"Liberation Serif", serif' fill="#3a3a3a" stroke="#3a3a3a" stroke-width="0.16" transform="scale(0.802 1)">M</text>
<text x="264.03" y="316.3" font-size="9" font-family='"Liberation Serif", serif' fill="#3a3a3a" stroke="#3a3a3a" stroke-width="0.16" transform="scale(0.923 1)">G</text>
<text x="192.96" y="316.3" font-size="9" font-family='"Liberation Serif", serif' fill="#3a3a3a" stroke="#3a3a3a" stroke-width="0.16" transform="scale(1.300 1)">I</text>
<text x="355.03" y="316.3" font-size="9" font-family='"Liberation Serif", serif' fill="#3a3a3a" stroke="#3a3a3a" stroke-width="0.16" transform="scale(0.720 1)">W</text>
<text x="294.53" y="316.3" font-size="9" font-family='"Liberation Serif", serif' fill="#3a3a3a" stroke="#3a3a3a" stroke-width="0.16" transform="scale(0.889 1)">V</text>
<text x="285.65" y="316.3" font-size="9" font-family='"Liberation Serif", serif' fill="#3a3a3a" stroke="#3a3a3a" stroke-width="0.16" transform="scale(0.937 1)">Q</text>
<text x="310.4" y="316.3" font-size="9" font-family='"Liberation Serif", serif' fill="#3a3a3a" stroke="#3a3a3a" stroke-width="0.16" transform="scale(0.882 1)">A</text>
<text x="257.85" y="316.3" font-size="9" font-family='"Liberation Serif", serif' fill="#3a3a3a" stroke="#3a3a3a" stroke-width="0.16" transform="scale(1.086 1)">E</text>
<text x="307.89" y="316.3" font-size="9" font-family='"Liberation Serif", serif' fill="#3a3a3a" stroke="#3a3a3a" stroke-width="0.16" transform="scale(0.928 1)">N</text>
<text x="330.8" y="316.3" font-size="9" font-family='"Liberation Serif", serif' fill="#3a3a3a" stroke="#3a3a3a" stroke-width="0.16" transform="scale(0.882 1)">A</text>
<text x="269.14" y="316.3" font-size="9" font-family='"Liberation Serif", serif' fill="#3a3a3a" stroke="#3a3a3a" stroke-width="0.16" transform="scale(1.107 1)">L</text>
<text x="329.02" y="316.3" font-size="9" font-family='"Liberation Serif", serif' fill="#3a3a3a" stroke="#3a3a3a" stroke-width="0.16" transform="scale(0.923 1)">G</text>
<text x="309.18" y="316.3" font-size="9" font-family='"Liberation Serif", serif' fill="#3a3a3a" stroke="#3a3a3a" stroke-width="0.16" transform="scale(1.003 1)">T</text>
<text x="263.97" y="316.3" font-size="9" font-family='"Liberation Serif", serif' fill="#3a3a3a" stroke="#3a3a3a" stroke-width="0.16" transform="scale(1.196 1)">S</text>
<text x="400.89" y="316.3" font-size="9" font-family='"Liberation Serif", serif' fill="#3a3a3a" stroke="#3a3a3a" stroke-width="0.16" transform="scale(0.802 1)">M</text>
<text x="274" y="316.3" font-size="9" font-family='"Liberation Serif", serif' fill="#3a3a3a" stroke="#3a3a3a" stroke-width="0.16" transform="scale(1.196 1)">S</text>
<text x="292.97" y="316.3" font-size="9" font-family='"Liberation Serif", serif' fill="#3a3a3a" stroke="#3a3a3a" stroke-width="0.16" transform="scale(1.140 1)">P</text>
<text x="362.49" y="316.3" font-size="9" font-family='"Liberation Serif", serif' fill="#3a3a3a" stroke="#3a3a3a" stroke-width="0.16" transform="scale(0.937 1)">Q</text>
<text x="312.5" y="316.3" font-size="9" font-family='"Liberation Serif", serif' fill="#3a3a3a" stroke="#3a3a3a" stroke-width="0.16" transform="scale(1.107 1)">L</text>
<text x="361.6" y="316.3" font-size="9" font-family='"Liberation Serif", serif' fill="#3a3a3a" stroke="#3a3a3a" stroke-width="0.16" transform="scale(0.973 1)">C</text>
<text x="323.34" y="316.3" font-size="9" font-family='"Liberation Serif", serif' fill="#3a3a3a" stroke="#3a3a3a" stroke-width="0.16" transform="scale(1.107 1)">L</text>
<text x="381.93" y="316.3" font-size="9" font-family='"Liberation Serif", serif' fill="#3a3a3a" stroke="#3a3a3a" stroke-width="0.16" transform="scale(0.952 1)">D</text>
<text x="324.55" y="316.3" font-size="9" font-family='"Liberation Serif", serif' fill="#3a3a3a" stroke="#3a3a3a" stroke-width="0.16" transform="scale(1.140 1)">P</text>
<text x="468.21" y="316.3" font-size="9" font-family='"Liberation Serif", serif' fill="#3a3a3a" stroke="#3a3a3a" stroke-width="0.16" transform="scale(0.802 1)">M</text>
<text x="217.2" y="236.2" font-size="5.3" font-family='"Liberation Serif", serif' text-anchor="middle" textLength="8" lengthAdjust="spacingAndGlyphs">103</text>
<line x1="217.2" y1="236.6" x2="217.2" y2="239.2" stroke="#333" stroke-width="0.9" />
<text x="301.6" y="236.4" font-size="5.3" font-family='"Liberation Serif", serif' text-anchor="middle" textLength="8" lengthAdjust="spacingAndGlyphs">117</text>
<line x1="301.6" y1="237" x2="301.6" y2="240" stroke="#333" stroke-width="0.9" />
<text x="217.4" y="266.4" font-size="5.3" font-family='"Liberation Serif", serif' text-anchor="middle" textLength="8" lengthAdjust="spacingAndGlyphs">116</text>
<line x1="217.4" y1="266.8" x2="217.4" y2="270.2" stroke="#333" stroke-width="0.9" />
<text x="216.7" y="306.4" font-size="5.3" font-family='"Liberation Serif", serif' text-anchor="middle" textLength="8" lengthAdjust="spacingAndGlyphs">595</text>
<line x1="216.7" y1="306.8" x2="216.7" y2="310.2" stroke="#333" stroke-width="0.9" />
<text x="45.2" y="348.6" font-size="9.3" textLength="164.4" lengthAdjust="spacingAndGlyphs" fill="#1e1e1e" stroke="#1e1e1e" stroke-width="0.2">STAT5 transcriptional activity (TpoR WT)</text>
<text x="7.7" y="347.7" font-size="11.2" fill="#1a1a1a" stroke="#1a1a1a" stroke-width="0.2">B</text>
<rect x="48.8" y="464.6" width="12.2" height="15.9" fill="#a23846" />
<rect x="61" y="387.4" width="12" height="93.1" fill="#4e6384" />
<rect x="92" y="466.9" width="12.2" height="13.6" fill="#a23846" />
<rect x="104.2" y="391.1" width="12" height="89.4" fill="#4e6384" />
<rect x="135.2" y="424.6" width="12.2" height="55.9" fill="#a23846" />
<rect x="147.4" y="400.6" width="12" height="79.9" fill="#4e6384" />
<rect x="178" y="434.8" width="12.2" height="45.7" fill="#a23846" />
<rect x="190.2" y="395.8" width="12" height="84.7" fill="#4e6384" />
<line x1="54.8" y1="461.9" x2="54.8" y2="467.8" stroke="#1a1a1a" stroke-width="1.1" />
<line x1="52.4" y1="461.9" x2="57.2" y2="461.9" stroke="#1a1a1a" stroke-width="1.1" />
<line x1="52.4" y1="467.8" x2="57.2" y2="467.8" stroke="#1a1a1a" stroke-width="1.1" />
<line x1="67.2" y1="380.3" x2="67.2" y2="395.5" stroke="#1a1a1a" stroke-width="1.1" />
<line x1="64.8" y1="380.3" x2="69.6" y2="380.3" stroke="#1a1a1a" stroke-width="1.1" />
<line x1="64.8" y1="395.5" x2="69.6" y2="395.5" stroke="#1a1a1a" stroke-width="1.1" />
<line x1="98" y1="465.2" x2="98" y2="469" stroke="#1a1a1a" stroke-width="1.1" />
<line x1="95.6" y1="465.2" x2="100.4" y2="465.2" stroke="#1a1a1a" stroke-width="1.1" />
<line x1="95.6" y1="469" x2="100.4" y2="469" stroke="#1a1a1a" stroke-width="1.1" />
<line x1="110.4" y1="379.2" x2="110.4" y2="402" stroke="#1a1a1a" stroke-width="1.1" />
<line x1="108" y1="379.2" x2="112.8" y2="379.2" stroke="#1a1a1a" stroke-width="1.1" />
<line x1="108" y1="402" x2="112.8" y2="402" stroke="#1a1a1a" stroke-width="1.1" />
<line x1="141.2" y1="412.5" x2="141.2" y2="436.7" stroke="#1a1a1a" stroke-width="1.1" />
<line x1="138.8" y1="412.5" x2="143.6" y2="412.5" stroke="#1a1a1a" stroke-width="1.1" />
<line x1="138.8" y1="436.7" x2="143.6" y2="436.7" stroke="#1a1a1a" stroke-width="1.1" />
<line x1="153.6" y1="392.3" x2="153.6" y2="409.2" stroke="#1a1a1a" stroke-width="1.1" />
<line x1="151.2" y1="392.3" x2="156" y2="392.3" stroke="#1a1a1a" stroke-width="1.1" />
<line x1="151.2" y1="409.2" x2="156" y2="409.2" stroke="#1a1a1a" stroke-width="1.1" />
<line x1="184" y1="428.9" x2="184" y2="441" stroke="#1a1a1a" stroke-width="1.1" />
<line x1="181.6" y1="428.9" x2="186.4" y2="428.9" stroke="#1a1a1a" stroke-width="1.1" />
<line x1="181.6" y1="441" x2="186.4" y2="441" stroke="#1a1a1a" stroke-width="1.1" />
<line x1="196.4" y1="381" x2="196.4" y2="409.2" stroke="#1a1a1a" stroke-width="1.1" />
<line x1="194" y1="381" x2="198.8" y2="381" stroke="#1a1a1a" stroke-width="1.1" />
<line x1="194" y1="409.2" x2="198.8" y2="409.2" stroke="#1a1a1a" stroke-width="1.1" />
<line x1="40" y1="356.2" x2="40" y2="481.2" stroke="#474747" stroke-width="1.7" />
<line x1="39.2" y1="480.5" x2="214.2" y2="480.5" stroke="#474747" stroke-width="1.5" />
<line x1="36.2" y1="480.5" x2="40" y2="480.5" stroke="#222" stroke-width="1.1" />
<text x="34" y="483.4" font-size="8.2" text-anchor="end" textLength="4.15" lengthAdjust="spacingAndGlyphs" fill="#2a2a2a" stroke="#2a2a2a" stroke-width="0.2">0</text>
<line x1="36.2" y1="460.6" x2="40" y2="460.6" stroke="#222" stroke-width="1.1" />
<text x="34" y="463.5" font-size="8.2" text-anchor="end" textLength="10.3" lengthAdjust="spacingAndGlyphs" fill="#2a2a2a" stroke="#2a2a2a" stroke-width="0.2">0.2</text>
<line x1="36.2" y1="440.5" x2="40" y2="440.5" stroke="#222" stroke-width="1.1" />
<text x="34" y="443.4" font-size="8.2" text-anchor="end" textLength="10.3" lengthAdjust="spacingAndGlyphs" fill="#2a2a2a" stroke="#2a2a2a" stroke-width="0.2">0.4</text>
<line x1="36.2" y1="420.3" x2="40" y2="420.3" stroke="#222" stroke-width="1.1" />
<text x="34" y="423.2" font-size="8.2" text-anchor="end" textLength="10.3" lengthAdjust="spacingAndGlyphs" fill="#2a2a2a" stroke="#2a2a2a" stroke-width="0.2">0.6</text>
<line x1="36.2" y1="400.2" x2="40" y2="400.2" stroke="#222" stroke-width="1.1" />
<text x="34" y="403.1" font-size="8.2" text-anchor="end" textLength="10.3" lengthAdjust="spacingAndGlyphs" fill="#2a2a2a" stroke="#2a2a2a" stroke-width="0.2">0.8</text>
<line x1="36.2" y1="380.4" x2="40" y2="380.4" stroke="#222" stroke-width="1.1" />
<text x="34" y="383.3" font-size="8.2" text-anchor="end" textLength="4.15" lengthAdjust="spacingAndGlyphs" fill="#2a2a2a" stroke="#2a2a2a" stroke-width="0.2">1</text>
<line x1="36.2" y1="359.4" x2="40" y2="359.4" stroke="#222" stroke-width="1.1" />
<text x="34" y="362.3" font-size="8.2" text-anchor="end" textLength="10.3" lengthAdjust="spacingAndGlyphs" fill="#2a2a2a" stroke="#2a2a2a" stroke-width="0.2">1.2</text>
<line x1="40" y1="480.5" x2="40" y2="483.7" stroke="#222" stroke-width="1.1" />
<line x1="82.4" y1="480.5" x2="82.4" y2="483.7" stroke="#222" stroke-width="1.1" />
<line x1="125.6" y1="480.5" x2="125.6" y2="483.7" stroke="#222" stroke-width="1.1" />
<line x1="168.8" y1="480.5" x2="168.8" y2="483.7" stroke="#222" stroke-width="1.1" />
<line x1="212.9" y1="480.5" x2="212.9" y2="483.7" stroke="#222" stroke-width="1.1" />
<text x="60.9" y="494" font-size="8.6" text-anchor="middle" textLength="6.2" lengthAdjust="spacingAndGlyphs" fill="#2a2a2a" stroke="#2a2a2a" stroke-width="0.2">Ø</text>
<text x="104.2" y="493.9" font-size="7.9" text-anchor="middle" textLength="18.8" lengthAdjust="spacingAndGlyphs" fill="#2a2a2a" stroke="#2a2a2a" stroke-width="0.2">CALR</text>
<text x="104.2" y="504.1" font-size="7.9" text-anchor="middle" textLength="11.4" lengthAdjust="spacingAndGlyphs" fill="#2a2a2a" stroke="#2a2a2a" stroke-width="0.2">WT</text>
<text x="147.4" y="493.9" font-size="7.9" text-anchor="middle" textLength="18.8" lengthAdjust="spacingAndGlyphs" fill="#2a2a2a" stroke="#2a2a2a" stroke-width="0.2">CALR</text>
<text x="147.4" y="504.1" font-size="7.9" text-anchor="middle" textLength="19.6" lengthAdjust="spacingAndGlyphs" fill="#2a2a2a" stroke="#2a2a2a" stroke-width="0.2">del52</text>
<text x="190.2" y="493.9" font-size="7.9" text-anchor="middle" textLength="18.8" lengthAdjust="spacingAndGlyphs" fill="#2a2a2a" stroke="#2a2a2a" stroke-width="0.2">CALR</text>
<text x="190.2" y="504.1" font-size="7.9" text-anchor="middle" textLength="15" lengthAdjust="spacingAndGlyphs" fill="#2a2a2a" stroke="#2a2a2a" stroke-width="0.2">ins5</text>
<text x="15.6" y="418" font-size="8.5" text-anchor="middle" textLength="82.5" lengthAdjust="spacingAndGlyphs" fill="#1e1e1e" transform="rotate(-90 15.6 418)" stroke="#1e1e1e" stroke-width="0.2">Luciferase ratio (rlu)</text>
<rect x="212.2" y="381" width="5.4" height="5.4" fill="#a23846" />
<rect x="212.2" y="392.3" width="5.4" height="5.4" fill="#4e6384" />
<text x="220.8" y="386.1" font-size="7.2" textLength="15.3" lengthAdjust="spacingAndGlyphs" fill="#2a2a2a" stroke="#2a2a2a" stroke-width="0.2">- Tpo</text>
<text x="220.8" y="397.4" font-size="7.2" textLength="17.8" lengthAdjust="spacingAndGlyphs" fill="#2a2a2a" stroke="#2a2a2a" stroke-width="0.2">+ Tpo</text>
<text x="297.6" y="348.6" font-size="9.3" textLength="161" lengthAdjust="spacingAndGlyphs" fill="#1e1e1e" stroke="#1e1e1e" stroke-width="0.2">STAT5 transcriptional activity (TpoR 8A)</text>
<text x="257.6" y="347.3" font-size="11.2" fill="#1a1a1a" stroke="#1a1a1a" stroke-width="0.2">C</text>
<rect x="298.8" y="451.2" width="12.2" height="29.2" fill="#a23846" />
<rect x="311" y="426.5" width="12" height="53.9" fill="#4e6384" />
<rect x="342.1" y="457.9" width="12.2" height="22.5" fill="#a23846" />
<rect x="354.3" y="429" width="12" height="51.4" fill="#4e6384" />
<rect x="385.8" y="445.1" width="12.2" height="35.3" fill="#a23846" />
<rect x="398" y="415.7" width="12" height="64.7" fill="#4e6384" />
<rect x="429" y="435.6" width="12.2" height="44.8" fill="#a23846" />
<rect x="441.2" y="398.9" width="12" height="81.5" fill="#4e6384" />
<line x1="304.8" y1="442.5" x2="304.8" y2="460.4" stroke="#1a1a1a" stroke-width="1.1" />
<line x1="302.4" y1="442.5" x2="307.2" y2="442.5" stroke="#1a1a1a" stroke-width="1.1" />
<line x1="302.4" y1="460.4" x2="307.2" y2="460.4" stroke="#1a1a1a" stroke-width="1.1" />
<line x1="317.2" y1="414.2" x2="317.2" y2="438.7" stroke="#1a1a1a" stroke-width="1.1" />
<line x1="314.8" y1="414.2" x2="319.6" y2="414.2" stroke="#1a1a1a" stroke-width="1.1" />
<line x1="314.8" y1="438.7" x2="319.6" y2="438.7" stroke="#1a1a1a" stroke-width="1.1" />
<line x1="348.1" y1="453.5" x2="348.1" y2="462.7" stroke="#1a1a1a" stroke-width="1.1" />
<line x1="345.7" y1="453.5" x2="350.5" y2="453.5" stroke="#1a1a1a" stroke-width="1.1" />
<line x1="345.7" y1="462.7" x2="350.5" y2="462.7" stroke="#1a1a1a" stroke-width="1.1" />
<line x1="360.5" y1="417.5" x2="360.5" y2="438.7" stroke="#1a1a1a" stroke-width="1.1" />
<line x1="358.1" y1="417.5" x2="362.9" y2="417.5" stroke="#1a1a1a" stroke-width="1.1" />
<line x1="358.1" y1="438.7" x2="362.9" y2="438.7" stroke="#1a1a1a" stroke-width="1.1" />
<line x1="391.8" y1="436.4" x2="391.8" y2="454.3" stroke="#1a1a1a" stroke-width="1.1" />
<line x1="389.4" y1="436.4" x2="394.2" y2="436.4" stroke="#1a1a1a" stroke-width="1.1" />
<line x1="389.4" y1="454.3" x2="394.2" y2="454.3" stroke="#1a1a1a" stroke-width="1.1" />
<line x1="404.2" y1="403.3" x2="404.2" y2="428.6" stroke="#1a1a1a" stroke-width="1.1" />
<line x1="401.8" y1="403.3" x2="406.6" y2="403.3" stroke="#1a1a1a" stroke-width="1.1" />
<line x1="401.8" y1="428.6" x2="406.6" y2="428.6" stroke="#1a1a1a" stroke-width="1.1" />
<line x1="435" y1="428.4" x2="435" y2="441.6" stroke="#1a1a1a" stroke-width="1.1" />
<line x1="432.6" y1="428.4" x2="437.4" y2="428.4" stroke="#1a1a1a" stroke-width="1.1" />
<line x1="432.6" y1="441.6" x2="437.4" y2="441.6" stroke="#1a1a1a" stroke-width="1.1" />
<line x1="447.4" y1="373.6" x2="447.4" y2="424.3" stroke="#1a1a1a" stroke-width="1.1" />
<line x1="445" y1="373.6" x2="449.8" y2="373.6" stroke="#1a1a1a" stroke-width="1.1" />
<line x1="445" y1="424.3" x2="449.8" y2="424.3" stroke="#1a1a1a" stroke-width="1.1" />
<line x1="289.4" y1="355" x2="289.4" y2="481.1" stroke="#474747" stroke-width="1.7" />
<line x1="288.6" y1="480.4" x2="466" y2="480.4" stroke="#474747" stroke-width="1.5" />
<line x1="285.6" y1="480.4" x2="289.4" y2="480.4" stroke="#222" stroke-width="1.1" />
<text x="283.4" y="483.3" font-size="8.2" text-anchor="end" textLength="4.15" lengthAdjust="spacingAndGlyphs" fill="#2a2a2a" stroke="#2a2a2a" stroke-width="0.2">0</text>
<line x1="285.6" y1="468.18" x2="289.4" y2="468.18" stroke="#222" stroke-width="1.1" />
<text x="283.4" y="471.08" font-size="8.2" text-anchor="end" textLength="10.3" lengthAdjust="spacingAndGlyphs" fill="#2a2a2a" stroke="#2a2a2a" stroke-width="0.2">0.2</text>
<line x1="285.6" y1="455.96" x2="289.4" y2="455.96" stroke="#222" stroke-width="1.1" />
<text x="283.4" y="458.86" font-size="8.2" text-anchor="end" textLength="10.3" lengthAdjust="spacingAndGlyphs" fill="#2a2a2a" stroke="#2a2a2a" stroke-width="0.2">0.4</text>
<line x1="285.6" y1="443.74" x2="289.4" y2="443.74" stroke="#222" stroke-width="1.1" />
<text x="283.4" y="446.64" font-size="8.2" text-anchor="end" textLength="10.3" lengthAdjust="spacingAndGlyphs" fill="#2a2a2a" stroke="#2a2a2a" stroke-width="0.2">0.6</text>
<line x1="285.6" y1="431.52" x2="289.4" y2="431.52" stroke="#222" stroke-width="1.1" />
<text x="283.4" y="434.42" font-size="8.2" text-anchor="end" textLength="10.3" lengthAdjust="spacingAndGlyphs" fill="#2a2a2a" stroke="#2a2a2a" stroke-width="0.2">0.8</text>
<line x1="285.6" y1="419.3" x2="289.4" y2="419.3" stroke="#222" stroke-width="1.1" />
<text x="283.4" y="422.2" font-size="8.2" text-anchor="end" textLength="4.15" lengthAdjust="spacingAndGlyphs" fill="#2a2a2a" stroke="#2a2a2a" stroke-width="0.2">1</text>
<line x1="285.6" y1="407.08" x2="289.4" y2="407.08" stroke="#222" stroke-width="1.1" />
<text x="283.4" y="409.98" font-size="8.2" text-anchor="end" textLength="10.3" lengthAdjust="spacingAndGlyphs" fill="#2a2a2a" stroke="#2a2a2a" stroke-width="0.2">1.2</text>
<line x1="285.6" y1="394.86" x2="289.4" y2="394.86" stroke="#222" stroke-width="1.1" />
<text x="283.4" y="397.76" font-size="8.2" text-anchor="end" textLength="10.3" lengthAdjust="spacingAndGlyphs" fill="#2a2a2a" stroke="#2a2a2a" stroke-width="0.2">1.4</text>
<line x1="285.6" y1="382.64" x2="289.4" y2="382.64" stroke="#222" stroke-width="1.1" />
<text x="283.4" y="385.54" font-size="8.2" text-anchor="end" textLength="10.3" lengthAdjust="spacingAndGlyphs" fill="#2a2a2a" stroke="#2a2a2a" stroke-width="0.2">1.6</text>
<line x1="285.6" y1="370.42" x2="289.4" y2="370.42" stroke="#222" stroke-width="1.1" />
<text x="283.4" y="373.32" font-size="8.2" text-anchor="end" textLength="10.3" lengthAdjust="spacingAndGlyphs" fill="#2a2a2a" stroke="#2a2a2a" stroke-width="0.2">1.8</text>
<line x1="285.6" y1="358.2" x2="289.4" y2="358.2" stroke="#222" stroke-width="1.1" />
<text x="283.4" y="361.1" font-size="8.2" text-anchor="end" textLength="4.15" lengthAdjust="spacingAndGlyphs" fill="#2a2a2a" stroke="#2a2a2a" stroke-width="0.2">2</text>
<line x1="289.4" y1="480.4" x2="289.4" y2="483.6" stroke="#222" stroke-width="1.1" />
<line x1="333.2" y1="480.4" x2="333.2" y2="483.6" stroke="#222" stroke-width="1.1" />
<line x1="376.4" y1="480.4" x2="376.4" y2="483.6" stroke="#222" stroke-width="1.1" />
<line x1="420.2" y1="480.4" x2="420.2" y2="483.6" stroke="#222" stroke-width="1.1" />
<line x1="463.6" y1="480.4" x2="463.6" y2="483.6" stroke="#222" stroke-width="1.1" />
<text x="312.1" y="494" font-size="8.6" text-anchor="middle" textLength="6.2" lengthAdjust="spacingAndGlyphs" fill="#2a2a2a" stroke="#2a2a2a" stroke-width="0.2">Ø</text>
<text x="354.3" y="493.9" font-size="7.9" text-anchor="middle" textLength="18.8" lengthAdjust="spacingAndGlyphs" fill="#2a2a2a" stroke="#2a2a2a" stroke-width="0.2">CALR</text>
<text x="354.3" y="504.1" font-size="7.9" text-anchor="middle" textLength="11.4" lengthAdjust="spacingAndGlyphs" fill="#2a2a2a" stroke="#2a2a2a" stroke-width="0.2">WT</text>
<text x="398" y="493.9" font-size="7.9" text-anchor="middle" textLength="18.8" lengthAdjust="spacingAndGlyphs" fill="#2a2a2a" stroke="#2a2a2a" stroke-width="0.2">CALR</text>
<text x="398" y="504.1" font-size="7.9" text-anchor="middle" textLength="19.6" lengthAdjust="spacingAndGlyphs" fill="#2a2a2a" stroke="#2a2a2a" stroke-width="0.2">del52</text>
<text x="441.2" y="493.9" font-size="7.9" text-anchor="middle" textLength="18.8" lengthAdjust="spacingAndGlyphs" fill="#2a2a2a" stroke="#2a2a2a" stroke-width="0.2">CALR</text>
<text x="441.2" y="504.1" font-size="7.9" text-anchor="middle" textLength="15" lengthAdjust="spacingAndGlyphs" fill="#2a2a2a" stroke="#2a2a2a" stroke-width="0.2">ins5</text>
<text x="265.6" y="417.6" font-size="8.5" text-anchor="middle" textLength="82.5" lengthAdjust="spacingAndGlyphs" fill="#1e1e1e" transform="rotate(-90 265.6 417.6)" stroke="#1e1e1e" stroke-width="0.2">Luciferase ratio (rlu)</text>
<rect x="469" y="380" width="5.4" height="5.4" fill="#a23846" />
<rect x="469" y="391.5" width="5.4" height="5.4" fill="#4e6384" />
<text x="477.6" y="385.1" font-size="7.2" textLength="14.7" lengthAdjust="spacingAndGlyphs" fill="#2a2a2a" stroke="#2a2a2a" stroke-width="0.2">- Eltr</text>
<text x="477.6" y="396.6" font-size="7.2" textLength="17.3" lengthAdjust="spacingAndGlyphs" fill="#2a2a2a" stroke="#2a2a2a" stroke-width="0.2">+ Eltr</text>
<text x="45.2" y="526.8" font-size="9.3" textLength="164.4" lengthAdjust="spacingAndGlyphs" fill="#1e1e1e" stroke="#1e1e1e" stroke-width="0.2">STAT5 transcriptional activity (EpoR WT)</text>
<text x="7.8" y="526.4" font-size="11.2" fill="#1a1a1a" stroke="#1a1a1a" stroke-width="0.2">D</text>
<rect x="49.5" y="621.2" width="12.2" height="38.8" fill="#a23846" />
<rect x="61.7" y="557.7" width="12" height="102.3" fill="#4e6384" />
<rect x="92.4" y="624.4" width="12.2" height="35.6" fill="#a23846" />
<rect x="104.6" y="577.1" width="12" height="82.9" fill="#4e6384" />
<rect x="135.3" y="630.4" width="12.2" height="29.6" fill="#a23846" />
<rect x="147.5" y="586.5" width="12" height="73.5" fill="#4e6384" />
<rect x="177.7" y="623.2" width="12.2" height="36.8" fill="#a23846" />
<rect x="189.9" y="581.9" width="12" height="78.1" fill="#4e6384" />
<line x1="55.5" y1="616.2" x2="55.5" y2="625.8" stroke="#1a1a1a" stroke-width="1.1" />
<line x1="53.1" y1="616.2" x2="57.9" y2="616.2" stroke="#1a1a1a" stroke-width="1.1" />
<line x1="53.1" y1="625.8" x2="57.9" y2="625.8" stroke="#1a1a1a" stroke-width="1.1" />
<line x1="67.9" y1="547.5" x2="67.9" y2="567.1" stroke="#1a1a1a" stroke-width="1.1" />
<line x1="65.5" y1="547.5" x2="70.3" y2="547.5" stroke="#1a1a1a" stroke-width="1.1" />
<line x1="65.5" y1="567.1" x2="70.3" y2="567.1" stroke="#1a1a1a" stroke-width="1.1" />
<line x1="98.4" y1="619.4" x2="98.4" y2="629.2" stroke="#1a1a1a" stroke-width="1.1" />
<line x1="96" y1="619.4" x2="100.8" y2="619.4" stroke="#1a1a1a" stroke-width="1.1" />
<line x1="96" y1="629.2" x2="100.8" y2="629.2" stroke="#1a1a1a" stroke-width="1.1" />
<line x1="110.8" y1="568.4" x2="110.8" y2="585.4" stroke="#1a1a1a" stroke-width="1.1" />
<line x1="108.4" y1="568.4" x2="113.2" y2="568.4" stroke="#1a1a1a" stroke-width="1.1" />
<line x1="108.4" y1="585.4" x2="113.2" y2="585.4" stroke="#1a1a1a" stroke-width="1.1" />
<line x1="141.3" y1="626.9" x2="141.3" y2="633.8" stroke="#1a1a1a" stroke-width="1.1" />
<line x1="138.9" y1="626.9" x2="143.7" y2="626.9" stroke="#1a1a1a" stroke-width="1.1" />
<line x1="138.9" y1="633.8" x2="143.7" y2="633.8" stroke="#1a1a1a" stroke-width="1.1" />
<line x1="153.7" y1="577.6" x2="153.7" y2="594.9" stroke="#1a1a1a" stroke-width="1.1" />
<line x1="151.3" y1="577.6" x2="156.1" y2="577.6" stroke="#1a1a1a" stroke-width="1.1" />
<line x1="151.3" y1="594.9" x2="156.1" y2="594.9" stroke="#1a1a1a" stroke-width="1.1" />
<line x1="183.7" y1="618.5" x2="183.7" y2="628" stroke="#1a1a1a" stroke-width="1.1" />
<line x1="181.3" y1="618.5" x2="186.1" y2="618.5" stroke="#1a1a1a" stroke-width="1.1" />
<line x1="181.3" y1="628" x2="186.1" y2="628" stroke="#1a1a1a" stroke-width="1.1" />
<line x1="196.1" y1="571.2" x2="196.1" y2="592.9" stroke="#1a1a1a" stroke-width="1.1" />
<line x1="193.7" y1="571.2" x2="198.5" y2="571.2" stroke="#1a1a1a" stroke-width="1.1" />
<line x1="193.7" y1="592.9" x2="198.5" y2="592.9" stroke="#1a1a1a" stroke-width="1.1" />
<line x1="40" y1="534.7" x2="40" y2="660.7" stroke="#474747" stroke-width="1.7" />
<line x1="39.2" y1="660" x2="213.8" y2="660" stroke="#474747" stroke-width="1.5" />
<line x1="36.2" y1="660" x2="40" y2="660" stroke="#222" stroke-width="1.1" />
<text x="34" y="662.9" font-size="8.2" text-anchor="end" textLength="4.15" lengthAdjust="spacingAndGlyphs" fill="#2a2a2a" stroke="#2a2a2a" stroke-width="0.2">0</text>
<line x1="36.2" y1="643.1" x2="40" y2="643.1" stroke="#222" stroke-width="1.1" />
<text x="34" y="646" font-size="8.2" text-anchor="end" textLength="4.15" lengthAdjust="spacingAndGlyphs" fill="#2a2a2a" stroke="#2a2a2a" stroke-width="0.2">2</text>
<line x1="36.2" y1="625.8" x2="40" y2="625.8" stroke="#222" stroke-width="1.1" />
<text x="34" y="628.7" font-size="8.2" text-anchor="end" textLength="4.15" lengthAdjust="spacingAndGlyphs" fill="#2a2a2a" stroke="#2a2a2a" stroke-width="0.2">4</text>
<line x1="36.2" y1="608.1" x2="40" y2="608.1" stroke="#222" stroke-width="1.1" />
<text x="34" y="611" font-size="8.2" text-anchor="end" textLength="4.15" lengthAdjust="spacingAndGlyphs" fill="#2a2a2a" stroke="#2a2a2a" stroke-width="0.2">6</text>
<line x1="36.2" y1="590.6" x2="40" y2="590.6" stroke="#222" stroke-width="1.1" />
<text x="34" y="593.5" font-size="8.2" text-anchor="end" textLength="4.15" lengthAdjust="spacingAndGlyphs" fill="#2a2a2a" stroke="#2a2a2a" stroke-width="0.2">8</text>
<line x1="36.2" y1="572.9" x2="40" y2="572.9" stroke="#222" stroke-width="1.1" />
<text x="34" y="575.8" font-size="8.2" text-anchor="end" textLength="8.3" lengthAdjust="spacingAndGlyphs" fill="#2a2a2a" stroke="#2a2a2a" stroke-width="0.2">10</text>
<line x1="36.2" y1="555.8" x2="40" y2="555.8" stroke="#222" stroke-width="1.1" />
<text x="34" y="558.7" font-size="8.2" text-anchor="end" textLength="8.3" lengthAdjust="spacingAndGlyphs" fill="#2a2a2a" stroke="#2a2a2a" stroke-width="0.2">12</text>
<line x1="36.2" y1="537.9" x2="40" y2="537.9" stroke="#222" stroke-width="1.1" />
<text x="34" y="540.8" font-size="8.2" text-anchor="end" textLength="8.3" lengthAdjust="spacingAndGlyphs" fill="#2a2a2a" stroke="#2a2a2a" stroke-width="0.2">14</text>
<line x1="40" y1="660" x2="40" y2="663.2" stroke="#222" stroke-width="1.1" />
<line x1="82.9" y1="660" x2="82.9" y2="663.2" stroke="#222" stroke-width="1.1" />
<line x1="125.9" y1="660" x2="125.9" y2="663.2" stroke="#222" stroke-width="1.1" />
<line x1="169.1" y1="660" x2="169.1" y2="663.2" stroke="#222" stroke-width="1.1" />
<line x1="211.5" y1="660" x2="211.5" y2="663.2" stroke="#222" stroke-width="1.1" />
<text x="61.4" y="673.9" font-size="8.6" text-anchor="middle" textLength="6.2" lengthAdjust="spacingAndGlyphs" fill="#2a2a2a" stroke="#2a2a2a" stroke-width="0.2">Ø</text>
<text x="104.6" y="673.8" font-size="7.9" text-anchor="middle" textLength="18.8" lengthAdjust="spacingAndGlyphs" fill="#2a2a2a" stroke="#2a2a2a" stroke-width="0.2">CALR</text>
<text x="104.6" y="683.5" font-size="7.9" text-anchor="middle" textLength="11.4" lengthAdjust="spacingAndGlyphs" fill="#2a2a2a" stroke="#2a2a2a" stroke-width="0.2">WT</text>
<text x="147.5" y="673.8" font-size="7.9" text-anchor="middle" textLength="18.8" lengthAdjust="spacingAndGlyphs" fill="#2a2a2a" stroke="#2a2a2a" stroke-width="0.2">CALR</text>
<text x="147.5" y="683.5" font-size="7.9" text-anchor="middle" textLength="19.6" lengthAdjust="spacingAndGlyphs" fill="#2a2a2a" stroke="#2a2a2a" stroke-width="0.2">del52</text>
<text x="189.9" y="673.8" font-size="7.9" text-anchor="middle" textLength="18.8" lengthAdjust="spacingAndGlyphs" fill="#2a2a2a" stroke="#2a2a2a" stroke-width="0.2">CALR</text>
<text x="189.9" y="683.5" font-size="7.9" text-anchor="middle" textLength="15" lengthAdjust="spacingAndGlyphs" fill="#2a2a2a" stroke="#2a2a2a" stroke-width="0.2">ins5</text>
<text x="17.9" y="597.6" font-size="8.5" text-anchor="middle" textLength="82.5" lengthAdjust="spacingAndGlyphs" fill="#1e1e1e" transform="rotate(-90 17.9 597.6)" stroke="#1e1e1e" stroke-width="0.2">Luciferase ratio (rlu)</text>
<rect x="212.3" y="558.8" width="5.4" height="5.4" fill="#a23846" />
<rect x="212.3" y="570.5" width="5.4" height="5.4" fill="#4e6384" />
<text x="220.9" y="563.9" font-size="7.2" textLength="17" lengthAdjust="spacingAndGlyphs" fill="#2a2a2a" stroke="#2a2a2a" stroke-width="0.2">- Epo</text>
<text x="220.9" y="575.6" font-size="7.2" textLength="18.6" lengthAdjust="spacingAndGlyphs" fill="#2a2a2a" stroke="#2a2a2a" stroke-width="0.2">+ Epo</text>
<text x="291.9" y="526.9" font-size="9.3" textLength="174.3" lengthAdjust="spacingAndGlyphs" fill="#1e1e1e" stroke="#1e1e1e" stroke-width="0.2">STAT5 transcriptional activity (EpoR LFFPL)</text>
<text x="258" y="527" font-size="11.2" fill="#1a1a1a" stroke="#1a1a1a" stroke-width="0.2">E</text>
<rect x="299.5" y="630.2" width="12.2" height="29.8" fill="#a23846" />
<rect x="311.7" y="631.2" width="12" height="28.8" fill="#4e6384" />
<rect x="343.2" y="640.8" width="12.2" height="19.2" fill="#a23846" />
<rect x="355.4" y="643.1" width="12" height="16.9" fill="#4e6384" />
<rect x="387.2" y="583.7" width="12.2" height="76.3" fill="#a23846" />
<rect x="399.4" y="587.7" width="12" height="72.3" fill="#4e6384" />
<rect x="430.9" y="560" width="12.2" height="100" fill="#a23846" />
<rect x="443.1" y="567.1" width="12" height="92.9" fill="#4e6384" />
<line x1="305.5" y1="626.3" x2="305.5" y2="633.7" stroke="#1a1a1a" stroke-width="1.1" />
<line x1="303.1" y1="626.3" x2="307.9" y2="626.3" stroke="#1a1a1a" stroke-width="1.1" />
<line x1="303.1" y1="633.7" x2="307.9" y2="633.7" stroke="#1a1a1a" stroke-width="1.1" />
<line x1="317.9" y1="628.3" x2="317.9" y2="633.7" stroke="#1a1a1a" stroke-width="1.1" />
<line x1="315.5" y1="628.3" x2="320.3" y2="628.3" stroke="#1a1a1a" stroke-width="1.1" />
<line x1="315.5" y1="633.7" x2="320.3" y2="633.7" stroke="#1a1a1a" stroke-width="1.1" />
<line x1="349.2" y1="638.8" x2="349.2" y2="642.7" stroke="#1a1a1a" stroke-width="1.1" />
<line x1="346.8" y1="638.8" x2="351.6" y2="638.8" stroke="#1a1a1a" stroke-width="1.1" />
<line x1="346.8" y1="642.7" x2="351.6" y2="642.7" stroke="#1a1a1a" stroke-width="1.1" />
<line x1="361.6" y1="641.3" x2="361.6" y2="645.2" stroke="#1a1a1a" stroke-width="1.1" />
<line x1="359.2" y1="641.3" x2="364" y2="641.3" stroke="#1a1a1a" stroke-width="1.1" />
<line x1="359.2" y1="645.2" x2="364" y2="645.2" stroke="#1a1a1a" stroke-width="1.1" />
<line x1="393.2" y1="576" x2="393.2" y2="591.4" stroke="#1a1a1a" stroke-width="1.1" />
<line x1="390.8" y1="576" x2="395.6" y2="576" stroke="#1a1a1a" stroke-width="1.1" />
<line x1="390.8" y1="591.4" x2="395.6" y2="591.4" stroke="#1a1a1a" stroke-width="1.1" />
<line x1="405.6" y1="582.8" x2="405.6" y2="592.6" stroke="#1a1a1a" stroke-width="1.1" />
<line x1="403.2" y1="582.8" x2="408" y2="582.8" stroke="#1a1a1a" stroke-width="1.1" />
<line x1="403.2" y1="592.6" x2="408" y2="592.6" stroke="#1a1a1a" stroke-width="1.1" />
<line x1="436.9" y1="552.3" x2="436.9" y2="567.7" stroke="#1a1a1a" stroke-width="1.1" />
<line x1="434.5" y1="552.3" x2="439.3" y2="552.3" stroke="#1a1a1a" stroke-width="1.1" />
<line x1="434.5" y1="567.7" x2="439.3" y2="567.7" stroke="#1a1a1a" stroke-width="1.1" />
<line x1="449.3" y1="552.3" x2="449.3" y2="580.9" stroke="#1a1a1a" stroke-width="1.1" />
<line x1="446.9" y1="552.3" x2="451.7" y2="552.3" stroke="#1a1a1a" stroke-width="1.1" />
<line x1="446.9" y1="580.9" x2="451.7" y2="580.9" stroke="#1a1a1a" stroke-width="1.1" />
<line x1="289.8" y1="531.8" x2="289.8" y2="660.7" stroke="#474747" stroke-width="1.7" />
<line x1="289" y1="660" x2="467.7" y2="660" stroke="#474747" stroke-width="1.5" />
<line x1="286" y1="660" x2="289.8" y2="660" stroke="#222" stroke-width="1.1" />
<text x="283.8" y="662.9" font-size="8.2" text-anchor="end" textLength="4.15" lengthAdjust="spacingAndGlyphs" fill="#2a2a2a" stroke="#2a2a2a" stroke-width="0.2">0</text>
<line x1="286" y1="647.5" x2="289.8" y2="647.5" stroke="#222" stroke-width="1.1" />
<text x="283.8" y="650.4" font-size="8.2" text-anchor="end" textLength="10.3" lengthAdjust="spacingAndGlyphs" fill="#2a2a2a" stroke="#2a2a2a" stroke-width="0.2">0.5</text>
<line x1="286" y1="635" x2="289.8" y2="635" stroke="#222" stroke-width="1.1" />
<text x="283.8" y="637.9" font-size="8.2" text-anchor="end" textLength="4.15" lengthAdjust="spacingAndGlyphs" fill="#2a2a2a" stroke="#2a2a2a" stroke-width="0.2">1</text>
<line x1="286" y1="622.5" x2="289.8" y2="622.5" stroke="#222" stroke-width="1.1" />
<text x="283.8" y="625.4" font-size="8.2" text-anchor="end" textLength="10.3" lengthAdjust="spacingAndGlyphs" fill="#2a2a2a" stroke="#2a2a2a" stroke-width="0.2">1.5</text>
<line x1="286" y1="610" x2="289.8" y2="610" stroke="#222" stroke-width="1.1" />
<text x="283.8" y="612.9" font-size="8.2" text-anchor="end" textLength="4.15" lengthAdjust="spacingAndGlyphs" fill="#2a2a2a" stroke="#2a2a2a" stroke-width="0.2">2</text>
<line x1="286" y1="597.5" x2="289.8" y2="597.5" stroke="#222" stroke-width="1.1" />
<text x="283.8" y="600.4" font-size="8.2" text-anchor="end" textLength="10.3" lengthAdjust="spacingAndGlyphs" fill="#2a2a2a" stroke="#2a2a2a" stroke-width="0.2">2.5</text>
<line x1="286" y1="585" x2="289.8" y2="585" stroke="#222" stroke-width="1.1" />
<text x="283.8" y="587.9" font-size="8.2" text-anchor="end" textLength="4.15" lengthAdjust="spacingAndGlyphs" fill="#2a2a2a" stroke="#2a2a2a" stroke-width="0.2">3</text>
<line x1="286" y1="572.5" x2="289.8" y2="572.5" stroke="#222" stroke-width="1.1" />
<text x="283.8" y="575.4" font-size="8.2" text-anchor="end" textLength="10.3" lengthAdjust="spacingAndGlyphs" fill="#2a2a2a" stroke="#2a2a2a" stroke-width="0.2">3.5</text>
<line x1="286" y1="560" x2="289.8" y2="560" stroke="#222" stroke-width="1.1" />
<text x="283.8" y="562.9" font-size="8.2" text-anchor="end" textLength="4.15" lengthAdjust="spacingAndGlyphs" fill="#2a2a2a" stroke="#2a2a2a" stroke-width="0.2">4</text>
<line x1="286" y1="547.5" x2="289.8" y2="547.5" stroke="#222" stroke-width="1.1" />
<text x="283.8" y="550.4" font-size="8.2" text-anchor="end" textLength="10.3" lengthAdjust="spacingAndGlyphs" fill="#2a2a2a" stroke="#2a2a2a" stroke-width="0.2">4.5</text>
<line x1="286" y1="535" x2="289.8" y2="535" stroke="#222" stroke-width="1.1" />
<text x="283.8" y="537.9" font-size="8.2" text-anchor="end" textLength="4.15" lengthAdjust="spacingAndGlyphs" fill="#2a2a2a" stroke="#2a2a2a" stroke-width="0.2">5</text>
<line x1="289.8" y1="660" x2="289.8" y2="663.2" stroke="#222" stroke-width="1.1" />
<line x1="333.8" y1="660" x2="333.8" y2="663.2" stroke="#222" stroke-width="1.1" />
<line x1="376.9" y1="660" x2="376.9" y2="663.2" stroke="#222" stroke-width="1.1" />
<line x1="420.9" y1="660" x2="420.9" y2="663.2" stroke="#222" stroke-width="1.1" />
<line x1="466.2" y1="660" x2="466.2" y2="663.2" stroke="#222" stroke-width="1.1" />
<text x="312.8" y="673.9" font-size="8.6" text-anchor="middle" textLength="6.2" lengthAdjust="spacingAndGlyphs" fill="#2a2a2a" stroke="#2a2a2a" stroke-width="0.2">Ø</text>
<text x="355.4" y="673.8" font-size="7.9" text-anchor="middle" textLength="18.8" lengthAdjust="spacingAndGlyphs" fill="#2a2a2a" stroke="#2a2a2a" stroke-width="0.2">CALR</text>
<text x="355.4" y="683.5" font-size="7.9" text-anchor="middle" textLength="11.4" lengthAdjust="spacingAndGlyphs" fill="#2a2a2a" stroke="#2a2a2a" stroke-width="0.2">WT</text>
<text x="399.4" y="673.8" font-size="7.9" text-anchor="middle" textLength="18.8" lengthAdjust="spacingAndGlyphs" fill="#2a2a2a" stroke="#2a2a2a" stroke-width="0.2">CALR</text>
<text x="399.4" y="683.5" font-size="7.9" text-anchor="middle" textLength="19.6" lengthAdjust="spacingAndGlyphs" fill="#2a2a2a" stroke="#2a2a2a" stroke-width="0.2">del52</text>
<text x="443.1" y="673.8" font-size="7.9" text-anchor="middle" textLength="18.8" lengthAdjust="spacingAndGlyphs" fill="#2a2a2a" stroke="#2a2a2a" stroke-width="0.2">CALR</text>
<text x="443.1" y="683.5" font-size="7.9" text-anchor="middle" textLength="15" lengthAdjust="spacingAndGlyphs" fill="#2a2a2a" stroke="#2a2a2a" stroke-width="0.2">ins5</text>
<text x="265.6" y="596.4" font-size="8.5" text-anchor="middle" textLength="82.5" lengthAdjust="spacingAndGlyphs" fill="#1e1e1e" transform="rotate(-90 265.6 596.4)" stroke="#1e1e1e" stroke-width="0.2">Luciferase ratio (rlu)</text>
<rect x="469" y="558.3" width="5.4" height="5.4" fill="#a23846" />
<rect x="469" y="570" width="5.4" height="5.4" fill="#4e6384" />
<text x="477.6" y="563.4" font-size="7.2" textLength="16.3" lengthAdjust="spacingAndGlyphs" fill="#2a2a2a" stroke="#2a2a2a" stroke-width="0.2">- Epo</text>
<text x="477.6" y="575.1" font-size="7.2" textLength="18.5" lengthAdjust="spacingAndGlyphs" fill="#2a2a2a" stroke="#2a2a2a" stroke-width="0.2">+ Epo</text>
<line x1="55.5" y1="359.7" x2="55.5" y2="446.3" stroke="#4a4a4a" stroke-width="1.1" />
<path d="M55.5 359.7 L184 359.7 L184 420.5" fill="none" stroke="#4a4a4a" stroke-width="1.1" stroke-linejoin="round"/>
<path d="M55.5 374.2 L141 374.2 L141 405.2" fill="none" stroke="#4a4a4a" stroke-width="1.1" stroke-linejoin="round"/>
<circle cx="116.9" cy="356.3" r="1.2" fill="#333"/>
<circle cx="119.9" cy="356.3" r="1.2" fill="#333"/>
<circle cx="122.9" cy="356.3" r="1.2" fill="#333"/>
<circle cx="95.1" cy="370.2" r="1.2" fill="#333"/>
<circle cx="98.1" cy="370.2" r="1.2" fill="#333"/>
<circle cx="101.1" cy="370.2" r="1.2" fill="#333"/>
<line x1="305.6" y1="540.8" x2="305.6" y2="617.3" stroke="#4a4a4a" stroke-width="1.1" />
<path d="M305.6 540.8 L436.9 540.8 L436.9 544.6" fill="none" stroke="#4a4a4a" stroke-width="1.1" stroke-linejoin="round"/>
<path d="M305.6 554.6 L393.2 554.6 L393.2 566.2" fill="none" stroke="#4a4a4a" stroke-width="1.1" stroke-linejoin="round"/>
<circle cx="368.4" cy="537" r="1.2" fill="#333"/>
<circle cx="371.4" cy="537" r="1.2" fill="#333"/>
<circle cx="374.4" cy="537" r="1.2" fill="#333"/>
<circle cx="346.4" cy="550.7" r="1.2" fill="#333"/>
<circle cx="349.4" cy="550.7" r="1.2" fill="#333"/>
<circle cx="352.4" cy="550.7" r="1.2" fill="#333"/>
</svg>
<div class="frame"></div>
</body></html>
